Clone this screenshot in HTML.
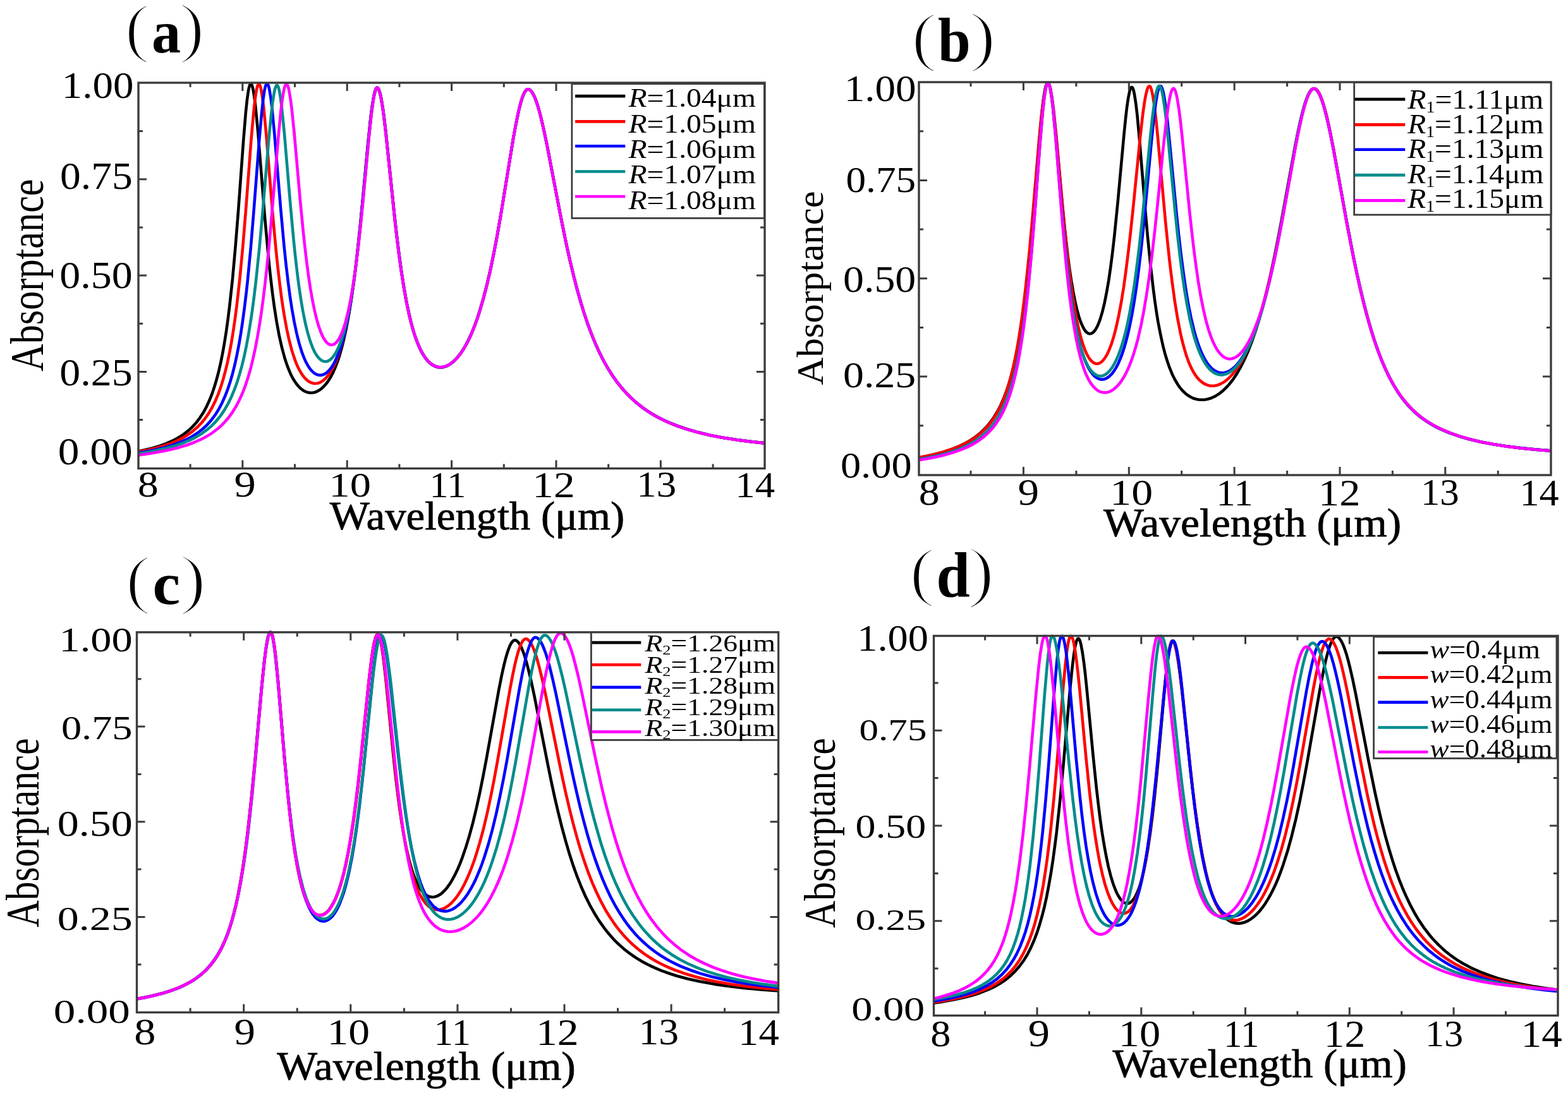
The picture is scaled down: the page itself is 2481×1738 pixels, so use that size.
<!DOCTYPE html>
<html><head><meta charset="utf-8"><title>Absorptance spectra</title><style>html,body{margin:0;padding:0;background:#fff}svg{display:block}</style></head><body>
<svg xmlns="http://www.w3.org/2000/svg" width="2481" height="1738" viewBox="0 0 2481 1738">
<rect width="2481" height="1738" fill="#fff"/>
<defs>
<clipPath id="clipa"><rect x="219.0" y="128.0" width="991.0" height="613.5"/></clipPath>
<clipPath id="clipb"><rect x="1454.0" y="127.0" width="1000.0" height="625.0"/></clipPath>
<clipPath id="clipc"><rect x="216.5" y="997.8" width="1015.0999999999999" height="604.7"/></clipPath>
<clipPath id="clipd"><rect x="1477.5" y="1003.5" width="987.5" height="604.0"/></clipPath>
</defs>
<g clip-path="url(#clipa)" fill="none" stroke-width="4.6" stroke-linejoin="round">
<polyline stroke="#000000" points="215.1,715.1 228.9,712.3 241.6,709.2 253.1,705.7 263.6,701.9 273.0,697.7 281.9,693.0 289.9,687.9 297.4,682.2 304.2,675.9 310.5,669.0 316.3,661.3 321.7,653.1 326.7,643.9 331.3,633.8 335.7,622.9 339.8,610.5 343.3,598.5 346.5,586.1 349.5,572.8 352.5,557.8 355.3,541.7 358.0,524.7 360.6,505.7 363.1,485.8 368.0,441.1 372.6,389.5 377.0,334.5 385.3,220.9 388.9,177.4 390.9,158.5 392.9,144.2 393.9,139.1 394.9,135.5 395.9,133.3 396.8,132.7 397.6,133.0 398.6,134.8 399.4,137.2 400.4,141.4 402.4,153.4 404.4,169.7 408.3,210.2 418.6,339.1 424.3,402.2 427.4,432.7 430.7,461.1 434.2,487.1 437.7,509.4 441.7,531.0 446.1,550.5 450.7,567.5 453.1,574.8 455.6,581.7 458.1,587.9 460.7,593.7 463.6,599.2 466.4,603.8 469.4,608.1 472.4,611.6 475.5,614.7 478.7,617.2 480.9,618.6 483.2,619.8 485.4,620.6 487.7,621.3 490.0,621.6 492.4,621.7 494.7,621.6 497.0,621.2 499.4,620.5 501.7,619.6 506.2,617.0 510.7,613.4 515.0,608.8 519.0,603.5 523.0,597.2 526.7,590.2 530.3,582.0 533.8,572.9 537.2,562.9 540.3,552.1 543.3,540.5 547.8,520.4 552.1,497.4 556.3,471.5 560.5,441.6 564.8,405.8 569.1,365.3 573.3,322.6 582.0,229.2 586.3,187.5 588.6,169.0 591.0,154.3 593.1,144.8 594.3,141.4 595.3,139.6 595.9,139.0 596.4,138.8 597.1,138.9 597.8,139.3 598.9,141.1 600.3,144.5 601.6,149.3 602.9,155.4 605.6,171.4 607.9,188.7 610.6,211.4 623.8,337.5 627.4,370.0 630.9,398.5 634.9,427.8 639.1,454.6 643.4,478.6 647.7,499.1 650.2,509.5 652.7,518.8 655.2,527.3 657.9,535.4 660.6,542.6 663.4,549.4 666.2,555.3 669.2,560.8 672.4,565.7 675.5,569.8 678.9,573.4 682.2,576.3 685.7,578.5 689.4,580.2 693.0,581.2 696.7,581.5 700.7,581.2 704.9,580.1 708.9,578.3 713.0,575.8 717.2,572.5 721.3,568.5 725.3,563.9 729.3,558.6 733.2,552.8 737.0,546.3 740.8,539.0 744.5,531.3 748.2,522.7 751.7,513.8 755.2,504.0 758.6,493.4 764.6,473.1 770.6,449.9 776.5,424.4 782.3,396.0 787.3,369.3 792.6,338.8 811.9,220.7 816.1,197.7 819.8,179.8 821.9,170.4 824.1,162.2 826.1,155.7 828.1,150.3 830.1,146.1 832.1,143.2 833.1,142.2 834.1,141.6 834.9,141.3 835.9,141.2 837.1,141.5 838.2,142.2 839.4,143.1 840.7,144.5 843.1,147.9 845.6,152.9 848.1,159.1 850.7,167.0 853.4,176.2 856.2,187.1 860.7,206.6 865.7,230.6 886.4,338.6 891.7,365.3 896.7,389.2 902.2,413.9 907.7,436.8 913.2,458.1 918.8,478.2 924.5,496.6 930.3,513.8 936.3,529.9 942.5,544.9 948.8,558.7 955.5,571.8 962.5,584.1 969.6,595.4 974.0,601.6 978.5,607.6 983.1,613.4 987.8,618.8 992.8,624.1 997.8,629.1 1002.9,633.9 1008.3,638.5 1013.8,642.9 1019.4,647.1 1025.3,651.1 1031.4,655.0 1037.8,658.7 1044.2,662.2 1050.9,665.5 1057.9,668.6 1072.6,674.5 1088.4,679.8 1105.4,684.6 1123.7,688.9 1143.5,692.7 1165.1,696.1 1188.6,699.1 1214.1,701.8"/>
<polyline stroke="#ff0000" points="215.1,715.9 230.1,713.1 243.7,710.0 256.2,706.5 267.5,702.8 277.9,698.6 287.4,694.0 296.0,688.9 304.0,683.3 311.3,677.1 318.2,670.1 324.3,662.7 330.2,654.3 335.5,645.2 340.5,635.1 345.2,624.1 349.5,612.1 353.1,600.3 356.6,587.4 359.8,574.2 363.0,559.1 366.0,543.0 368.8,525.9 371.6,506.7 374.3,486.5 379.3,442.3 384.3,389.4 388.8,334.7 397.4,221.3 401.3,177.7 403.4,158.1 405.4,144.6 406.4,139.7 407.4,136.1 408.4,133.9 408.9,133.3 409.4,133.1 410.3,133.5 411.3,135.2 412.3,138.3 413.3,142.6 415.3,154.7 417.3,171.0 421.1,211.1 431.2,335.6 436.7,396.0 439.9,426.2 443.1,453.1 446.2,476.7 449.6,498.3 453.4,519.5 457.6,538.7 461.9,555.1 466.4,568.9 468.7,575.0 471.2,580.7 473.7,585.7 476.4,590.4 479.0,594.3 481.9,597.9 484.7,600.8 487.7,603.2 491.7,605.5 495.7,606.7 497.7,607.0 499.7,607.0 501.7,606.8 503.9,606.3 507.9,604.6 511.8,601.9 515.8,598.2 519.7,593.6 523.3,588.2 526.8,582.0 530.2,575.1 533.5,567.0 536.7,558.2 539.8,548.1 542.8,537.3 545.7,525.8 549.8,506.4 553.8,484.6 557.6,460.5 561.5,432.9 565.6,398.7 569.8,360.2 573.8,319.8 582.5,227.8 586.8,186.8 589.1,168.6 591.5,154.2 593.6,144.9 594.8,141.6 595.8,139.9 596.4,139.2 596.9,139.1 597.4,139.1 598.1,139.5 599.3,141.2 600.6,144.6 601.9,149.5 603.3,155.8 605.9,172.1 608.3,189.9 610.8,211.6 623.6,336.6 627.1,368.1 630.6,397.1 634.6,426.7 638.7,453.7 642.9,477.0 647.2,497.6 649.7,508.0 652.2,517.5 654.9,526.5 657.6,534.6 660.2,541.8 663.1,548.6 666.1,554.9 669.1,560.3 672.2,565.2 675.4,569.4 678.7,573.0 682.2,576.0 685.7,578.3 689.4,580.0 693.0,581.0 696.9,581.3 700.9,581.0 705.0,579.9 709.2,578.1 713.4,575.5 717.5,572.2 721.5,568.3 725.5,563.8 729.5,558.5 733.3,552.7 737.2,546.1 741.0,538.8 744.7,531.1 748.3,522.5 751.8,513.5 755.3,503.8 758.8,493.1 764.8,472.7 770.8,449.5 776.6,423.9 782.3,396.2 787.3,369.5 792.6,338.9 811.9,220.7 816.1,197.7 819.8,179.7 821.9,170.3 824.1,162.1 826.1,155.6 828.1,150.2 830.1,146.0 832.1,143.1 833.1,142.2 834.1,141.5 834.9,141.3 835.9,141.2 837.1,141.5 838.2,142.2 839.4,143.1 840.7,144.5 843.1,148.0 845.6,152.9 848.1,159.2 850.7,167.1 853.4,176.3 856.2,187.2 860.7,206.7 865.7,230.7 886.4,338.7 896.5,388.5 902.2,413.9 907.7,436.9 913.2,458.1 918.8,478.2 924.5,496.6 930.3,513.8 936.3,529.9 942.5,544.9 948.8,558.7 955.5,571.8 962.5,584.1 969.6,595.3 974.0,601.5 978.5,607.5 983.1,613.3 987.8,618.7 992.8,624.1 997.8,629.1 1002.9,633.9 1008.3,638.5 1013.8,642.9 1019.4,647.1 1025.3,651.1 1031.4,655.0 1037.8,658.7 1044.2,662.2 1050.9,665.5 1057.9,668.6 1072.6,674.5 1088.4,679.8 1105.4,684.6 1123.7,688.9 1143.5,692.7 1165.1,696.1 1188.6,699.1 1214.1,701.8"/>
<polyline stroke="#0000ff" points="215.1,717.4 231.6,714.7 246.6,711.7 260.2,708.4 272.5,704.7 283.7,700.7 294.0,696.2 303.4,691.3 312.0,685.8 319.8,679.8 327.2,673.0 333.8,665.6 340.0,657.4 345.7,648.5 351.0,638.5 355.8,627.8 360.5,615.7 364.3,604.1 368.0,591.3 371.5,577.4 374.8,562.2 378.0,545.8 381.0,528.2 383.8,509.5 386.6,488.6 389.3,466.6 391.8,443.9 396.8,391.9 401.4,335.9 410.4,219.3 414.3,176.3 416.4,157.0 418.4,143.7 419.4,138.9 420.4,135.4 421.4,133.3 421.9,132.7 422.4,132.5 423.3,132.9 424.3,134.6 425.3,137.6 426.3,141.8 428.3,153.8 430.4,171.3 434.2,211.1 444.1,330.0 449.4,388.4 452.4,417.2 455.6,444.3 458.7,468.1 461.9,488.9 465.6,509.6 469.4,527.8 473.4,543.6 477.7,557.5 479.9,563.4 482.2,569.0 484.5,573.9 487.0,578.4 489.5,582.3 492.0,585.6 494.7,588.5 497.4,590.7 500.9,592.7 504.4,593.8 507.9,593.9 511.3,593.1 514.8,591.4 518.3,588.7 521.7,585.2 525.0,580.8 528.2,575.6 531.3,569.4 534.3,562.5 537.2,555.0 540.0,546.4 542.7,537.2 545.3,526.8 548.0,515.3 551.6,497.1 555.3,476.1 558.8,453.1 562.3,427.0 566.1,394.8 570.1,357.2 582.5,226.5 586.6,186.5 589.1,166.9 591.3,153.6 592.4,148.0 593.4,144.3 594.4,141.5 595.4,139.7 596.1,139.0 596.6,138.8 597.3,139.0 597.9,139.5 599.1,141.3 600.4,144.8 601.8,149.7 603.1,156.0 605.8,172.2 608.1,189.8 610.6,211.2 623.6,336.6 627.3,369.3 630.8,397.9 634.7,427.3 638.9,454.2 643.2,478.3 647.6,498.7 650.1,509.1 652.6,518.5 655.1,526.9 657.7,535.0 660.4,542.2 663.2,549.0 666.2,555.3 669.2,560.7 672.4,565.6 675.5,569.7 678.9,573.3 682.2,576.1 685.7,578.4 689.4,580.1 693.0,581.0 696.7,581.4 700.7,581.1 704.9,580.0 709.0,578.2 713.2,575.6 717.3,572.3 721.3,568.5 725.3,563.9 729.3,558.7 733.2,552.9 737.0,546.4 740.8,539.1 744.5,531.4 748.2,522.9 751.7,513.9 755.2,504.2 758.6,493.6 764.6,473.3 770.6,450.1 776.5,424.7 782.3,396.2 787.3,369.5 792.6,338.9 811.9,220.7 816.1,197.7 819.8,179.7 821.9,170.3 824.1,162.1 826.3,155.1 828.3,149.8 830.3,145.7 832.3,142.9 834.1,141.5 835.1,141.2 836.1,141.3 837.2,141.6 838.4,142.3 839.6,143.3 840.9,144.7 843.2,148.3 845.7,153.3 848.2,159.6 850.7,167.1 853.4,176.3 856.2,187.2 860.7,206.7 865.7,230.7 886.4,338.7 896.5,388.5 902.0,413.2 907.5,436.2 913.0,457.5 918.7,477.6 924.3,496.1 930.2,513.4 936.2,529.5 942.3,544.5 948.7,558.4 955.3,571.5 962.3,583.8 969.5,595.1 973.8,601.3 978.3,607.3 983.0,613.1 987.6,618.5 992.6,623.9 997.6,629.0 1002.8,633.8 1008.1,638.4 1013.6,642.8 1019.3,647.0 1025.1,651.0 1031.3,654.9 1037.6,658.6 1044.1,662.1 1050.9,665.4 1057.9,668.6 1072.6,674.5 1088.4,679.8 1105.4,684.6 1123.7,688.9 1143.5,692.7 1165.1,696.1 1188.6,699.2 1214.1,701.8"/>
<polyline stroke="#008b8b" points="215.1,718.7 232.7,715.9 248.7,712.8 263.2,709.5 276.5,705.7 288.5,701.6 299.5,697.1 309.7,692.1 318.8,686.6 327.3,680.4 335.2,673.7 342.3,666.3 349.0,658.1 355.1,649.0 360.8,639.2 366.1,628.2 371.1,616.2 375.3,604.5 379.1,592.2 383.0,578.1 386.5,563.5 389.8,547.7 393.1,529.8 396.3,510.6 399.3,490.3 402.1,468.9 404.9,445.3 410.4,392.7 415.4,337.6 425.1,222.5 429.3,179.3 431.6,160.1 433.9,145.8 435.1,140.8 436.1,137.7 437.2,135.5 437.7,135.0 438.2,134.9 439.1,135.4 440.1,137.1 441.1,140.1 442.1,144.4 444.1,156.3 446.2,173.8 450.1,213.1 459.6,325.9 464.6,380.0 467.4,407.1 470.4,432.9 473.2,454.5 476.2,474.6 479.5,493.9 483.0,511.1 486.7,526.2 490.5,539.1 494.5,549.9 496.5,554.4 498.7,558.6 500.9,562.2 503.2,565.4 505.4,567.8 507.7,569.8 510.5,571.4 513.5,572.3 516.5,572.2 519.5,571.2 522.5,569.3 525.3,566.7 528.2,563.3 531.0,558.9 533.8,553.6 536.5,547.7 539.2,540.8 541.7,533.4 544.2,525.0 546.5,516.2 551.2,495.7 555.0,475.4 558.8,451.6 562.5,425.5 566.1,395.7 569.3,367.1 572.5,336.1 584.0,214.6 588.1,176.9 590.1,162.4 592.1,151.1 593.9,143.8 594.9,141.2 595.8,139.8 596.4,139.2 596.9,139.0 597.4,139.1 598.1,139.6 599.3,141.3 600.6,144.8 601.8,149.0 603.1,155.2 605.8,171.4 608.1,189.0 610.6,210.7 623.4,335.9 626.9,367.5 630.4,396.5 634.4,426.1 638.6,453.1 642.7,476.4 647.2,497.8 649.7,508.2 652.2,517.5 654.9,526.5 657.6,534.6 660.2,541.7 663.1,548.5 666.1,554.7 669.1,560.2 672.2,565.1 675.5,569.4 678.9,573.0 682.4,576.0 685.9,578.2 689.5,579.9 693.2,580.9 697.0,581.3 701.0,580.9 705.2,579.8 709.4,578.0 713.5,575.4 717.7,572.1 721.7,568.2 725.7,563.6 729.7,558.3 733.5,552.5 737.3,545.9 741.2,538.6 744.8,530.8 748.5,522.2 752.0,513.2 755.5,503.4 758.8,493.2 764.8,472.9 770.8,449.6 776.6,424.0 782.3,396.3 787.3,369.5 792.6,338.9 811.9,220.5 816.1,197.5 819.8,179.5 821.9,170.1 824.1,161.9 826.3,154.9 828.3,149.7 830.3,145.6 832.3,142.9 834.1,141.5 835.1,141.2 836.1,141.3 837.2,141.6 838.4,142.3 839.6,143.3 840.9,144.8 843.2,148.3 845.7,153.4 848.2,159.7 850.7,167.2 853.4,176.4 856.2,187.3 860.7,206.8 865.7,230.8 886.4,338.7 896.5,388.4 902.2,413.8 907.7,436.8 913.2,458.0 918.8,478.1 924.5,496.5 930.3,513.8 936.3,529.9 942.5,544.8 948.8,558.7 955.5,571.8 962.5,584.1 969.6,595.3 974.0,601.5 978.5,607.5 983.1,613.3 987.8,618.7 992.8,624.1 997.8,629.1 1002.9,633.9 1008.3,638.5 1013.8,642.9 1019.4,647.1 1025.3,651.1 1031.4,655.0 1037.8,658.7 1044.2,662.2 1051.1,665.6 1058.1,668.7 1072.7,674.6 1088.5,679.9 1105.5,684.7 1123.8,688.9 1143.7,692.7 1165.3,696.1 1188.6,699.1 1214.1,701.8"/>
<polyline stroke="#ff00ff" points="215.1,721.0 234.6,718.3 252.2,715.3 268.2,712.0 282.7,708.4 295.9,704.5 307.8,700.0 318.7,695.2 328.7,689.8 337.8,683.8 346.2,677.3 350.0,673.8 353.8,670.0 360.8,662.1 367.3,653.3 373.5,643.3 379.1,632.4 384.3,620.7 388.6,609.2 392.8,596.4 396.8,582.3 400.4,567.5 403.9,551.4 407.4,533.1 410.6,514.3 413.8,493.2 416.8,470.8 419.6,447.3 422.4,421.5 425.3,393.3 430.2,338.0 440.1,220.3 444.2,177.1 446.6,157.9 448.9,143.7 450.1,138.7 451.1,135.7 452.1,133.8 452.6,133.3 453.1,133.1 453.6,133.2 454.1,133.6 455.1,135.2 456.1,138.1 457.1,142.0 459.2,154.1 461.6,171.9 465.6,210.8 475.0,317.5 480.0,369.0 482.9,395.0 485.5,417.1 488.2,437.1 491.0,455.9 494.2,474.3 497.4,490.0 500.7,504.0 504.0,515.6 507.7,526.0 511.3,534.0 513.2,537.2 515.2,540.0 517.0,542.2 519.0,543.9 521.3,545.3 523.8,546.0 526.3,545.7 528.7,544.8 531.0,543.1 533.3,540.6 535.7,537.3 538.0,533.2 540.2,528.6 542.3,523.2 544.5,517.0 546.7,509.9 550.8,493.6 554.8,474.4 558.1,455.3 561.5,433.2 564.6,409.3 567.8,382.4 573.5,327.5 584.0,214.5 588.0,177.3 590.0,162.4 591.8,151.5 593.6,143.8 594.6,141.1 595.4,139.6 596.1,138.9 596.6,138.8 597.1,138.9 597.8,139.3 598.9,141.1 600.3,144.4 601.6,149.3 602.9,155.5 605.6,171.7 607.9,189.2 610.6,212.2 623.4,336.3 626.9,367.7 630.4,396.5 634.4,426.0 638.6,452.9 642.9,477.1 647.2,497.7 649.7,508.0 652.2,517.4 654.9,526.5 657.6,534.5 660.2,541.7 663.1,548.5 666.1,554.8 669.1,560.2 672.2,565.1 675.4,569.3 678.7,572.9 682.2,575.9 685.7,578.2 689.4,579.9 693.0,580.9 696.9,581.2 700.9,580.9 705.0,579.8 709.2,578.0 713.4,575.5 717.5,572.2 721.5,568.4 725.5,563.8 729.5,558.5 733.3,552.8 737.2,546.3 741.0,539.0 744.7,531.2 748.3,522.7 751.8,513.7 755.3,504.0 758.6,493.9 764.6,473.6 770.6,450.4 776.5,424.9 782.3,396.4 787.3,369.6 792.6,339.0 811.9,220.4 816.1,197.4 819.8,179.4 821.9,170.0 824.1,161.8 826.3,154.8 828.3,149.6 830.3,145.5 832.3,142.8 833.3,141.9 834.3,141.4 835.3,141.2 836.3,141.3 837.4,141.7 838.6,142.4 841.1,145.0 843.4,148.7 845.9,153.9 848.4,160.3 850.9,167.9 853.6,177.1 856.4,188.1 860.7,206.9 865.7,230.9 886.4,338.7 896.5,388.4 902.0,413.1 907.5,436.1 913.0,457.4 918.7,477.6 924.3,496.0 930.2,513.3 936.2,529.4 942.3,544.4 948.8,558.6 955.5,571.7 962.5,584.0 969.6,595.3 974.0,601.5 978.5,607.5 983.1,613.3 987.8,618.7 992.8,624.1 997.8,629.1 1002.9,633.9 1008.3,638.5 1013.8,642.9 1019.4,647.1 1025.3,651.1 1031.4,655.0 1037.8,658.7 1044.2,662.2 1051.1,665.6 1058.1,668.8 1072.7,674.6 1088.5,679.9 1105.5,684.7 1123.8,689.0 1143.7,692.8 1165.3,696.2 1188.6,699.2 1214.1,701.8"/>
</g>
<path d="M301.1,741.5v-7M301.1,131.0v7M383.8,741.5v-13M383.8,131.0v13M466.5,741.5v-7M466.5,131.0v7M549.2,741.5v-13M549.2,131.0v13M631.9,741.5v-7M631.9,131.0v7M714.6,741.5v-13M714.6,131.0v13M797.3,741.5v-7M797.3,131.0v7M880.0,741.5v-13M880.0,131.0v13M962.7,741.5v-7M962.7,131.0v7M1045.4,741.5v-13M1045.4,131.0v13M1128.1,741.5v-7M1128.1,131.0v7M219.0,664.6h7M1210.0,664.6h-7M219.0,588.4h13M1210.0,588.4h-13M219.0,512.2h7M1210.0,512.2h-7M219.0,436.0h13M1210.0,436.0h-13M219.0,359.9h7M1210.0,359.9h-7M219.0,283.7h13M1210.0,283.7h-13M219.0,207.5h7M1210.0,207.5h-7" stroke="#3c3c3c" stroke-width="3" fill="none"/>
<rect x="219.0" y="131.0" width="991.0" height="610.5" fill="none" stroke="#3c3c3c" stroke-width="3.4"/>
<g clip-path="url(#clipb)" fill="none" stroke-width="4.6" stroke-linejoin="round">
<polyline stroke="#000000" points="1449.3,725.3 1465.2,722.3 1479.7,719.0 1492.9,715.4 1505.0,711.4 1516.1,707.0 1526.2,702.2 1535.4,697.0 1544.0,691.1 1551.9,684.7 1559.1,677.7 1565.8,669.9 1572.1,661.3 1577.8,652.0 1583.2,641.7 1588.0,630.8 1592.7,618.4 1596.6,606.6 1600.3,593.8 1603.8,579.8 1607.2,564.7 1610.4,548.5 1613.4,531.3 1616.4,512.0 1619.3,491.6 1622.0,470.5 1624.6,447.2 1630.0,394.1 1634.9,338.8 1644.5,221.7 1648.7,177.0 1651.0,157.1 1653.4,142.3 1654.5,137.2 1655.6,134.0 1656.6,132.0 1657.1,131.5 1657.7,131.2 1658.2,131.4 1658.7,131.8 1659.8,133.6 1660.8,136.5 1661.8,140.5 1664.0,152.5 1666.3,170.1 1670.3,208.4 1679.9,313.6 1684.6,361.3 1689.8,406.8 1692.5,427.0 1695.2,445.0 1698.1,461.9 1701.1,477.2 1704.1,490.3 1707.1,501.2 1710.3,510.5 1713.7,518.0 1715.4,521.0 1717.0,523.5 1718.7,525.4 1720.4,526.8 1722.4,527.9 1724.4,528.3 1726.4,528.0 1728.5,527.0 1730.5,525.4 1732.5,523.0 1734.5,519.8 1736.5,516.0 1738.5,511.3 1740.4,506.3 1744.1,494.2 1747.6,479.7 1751.1,462.0 1754.2,444.2 1757.2,423.6 1760.2,400.2 1763.2,373.9 1768.6,320.5 1778.7,210.1 1780.9,188.7 1782.7,172.6 1784.9,156.9 1787.1,145.6 1788.1,142.0 1789.1,139.5 1790.1,138.2 1790.6,138.0 1791.1,138.1 1792.0,138.9 1793.0,141.2 1794.0,144.7 1795.0,149.4 1797.2,163.6 1799.4,182.3 1803.2,223.7 1811.6,326.1 1815.8,373.9 1820.4,419.6 1825.1,459.8 1827.4,477.3 1829.9,494.3 1832.4,509.6 1835.0,523.3 1837.7,536.4 1840.5,548.8 1843.5,560.3 1846.6,570.5 1850.6,582.2 1854.8,592.4 1859.3,601.5 1864.2,609.6 1866.7,613.1 1869.4,616.4 1872.1,619.4 1874.8,622.0 1877.6,624.3 1880.7,626.5 1883.7,628.3 1886.7,629.8 1889.9,631.0 1893.3,631.9 1896.6,632.5 1900.1,632.8 1903.7,632.8 1907.2,632.5 1910.7,631.8 1914.3,630.8 1917.8,629.5 1921.3,627.9 1924.8,625.9 1928.2,623.8 1931.7,621.2 1935.1,618.4 1941.6,612.0 1945.2,608.0 1948.7,603.6 1952.2,598.8 1955.6,593.8 1962.3,582.4 1968.7,569.8 1974.9,555.7 1981.1,539.8 1987.0,522.7 1992.9,503.7 1998.8,482.7 2004.5,460.2 2010.4,434.9 2016.2,407.6 2021.4,381.8 2027.1,351.9 2048.8,233.4 2054.0,207.3 2058.7,186.2 2061.6,174.9 2064.4,164.9 2067.1,156.9 2069.8,150.4 2072.5,145.4 2075.0,142.2 2076.4,141.1 2077.5,140.5 2078.7,140.3 2080.1,140.4 2081.2,140.8 2082.4,141.6 2083.6,142.7 2084.9,144.4 2087.5,148.5 2090.0,154.1 2092.5,161.0 2095.2,169.7 2097.9,179.6 2100.7,191.4 2105.3,212.3 2110.5,238.7 2131.5,354.3 2141.7,407.4 2147.3,433.9 2152.8,458.6 2158.4,481.5 2163.9,502.6 2169.4,521.9 2175.0,539.5 2180.7,556.0 2186.4,570.8 2192.5,584.9 2198.7,597.8 2205.1,609.6 2211.8,620.5 2215.8,626.4 2219.8,631.9 2224.0,637.1 2228.2,642.0 2232.8,646.8 2237.3,651.2 2242.0,655.5 2247.0,659.6 2252.1,663.4 2257.5,667.1 2263.0,670.6 2268.7,673.9 2274.8,677.1 2281.0,680.0 2287.5,682.9 2294.4,685.6 2309.2,690.7 2325.3,695.3 2342.8,699.4 2362.0,703.1 2382.6,706.2 2405.3,709.1 2430.0,711.5 2457.0,713.6"/>
<polyline stroke="#ff0000" points="1449.3,724.9 1465.2,721.9 1479.7,718.7 1492.9,715.2 1505.0,711.3 1516.1,707.1 1526.2,702.4 1535.4,697.3 1544.0,691.7 1551.9,685.4 1559.1,678.6 1565.7,671.2 1571.7,663.1 1577.3,654.3 1582.5,644.4 1587.2,633.9 1591.7,622.0 1595.4,610.7 1598.9,598.3 1602.3,585.0 1605.7,569.8 1608.9,553.5 1611.9,536.2 1614.7,518.0 1617.6,497.8 1620.4,475.5 1623.1,452.6 1628.7,399.1 1633.7,343.7 1643.8,224.9 1646.1,199.5 1648.3,178.3 1650.9,157.8 1653.4,142.6 1654.5,137.6 1655.7,134.0 1656.9,131.9 1657.9,131.2 1658.4,131.3 1658.9,131.7 1660.1,133.7 1661.1,136.7 1662.3,141.4 1664.6,154.8 1667.0,172.9 1671.2,213.5 1681.6,330.0 1687.0,385.2 1690.0,412.9 1693.0,438.0 1696.0,460.5 1699.1,480.4 1702.4,499.7 1706.0,517.0 1709.5,531.6 1713.2,544.2 1717.0,554.8 1718.9,559.0 1720.9,562.9 1722.9,566.3 1725.1,569.4 1727.1,571.6 1729.3,573.5 1732.0,575.0 1734.7,575.7 1737.4,575.6 1740.2,574.6 1742.9,572.8 1745.6,570.1 1748.3,566.6 1751.0,562.2 1753.5,557.2 1756.0,551.3 1758.5,544.6 1760.9,537.3 1763.2,529.2 1765.6,520.1 1770.1,499.7 1774.0,479.0 1777.9,455.0 1781.5,428.9 1785.2,399.5 1788.4,371.7 1791.8,340.2 1804.1,217.1 1808.4,179.1 1810.8,162.4 1813.0,150.2 1815.1,141.6 1816.2,139.0 1817.2,137.2 1818.3,136.3 1819.0,136.3 1819.5,136.6 1820.7,138.5 1821.9,141.7 1823.0,146.4 1824.4,153.3 1826.9,170.4 1829.1,188.9 1831.4,211.7 1844.0,349.6 1847.6,385.2 1850.9,416.2 1855.0,449.3 1859.0,478.1 1863.2,503.8 1867.4,525.4 1869.7,535.9 1872.3,546.1 1874.8,555.1 1877.3,563.2 1880.0,570.8 1882.8,577.8 1885.7,583.9 1888.7,589.5 1891.9,594.5 1895.1,598.6 1898.6,602.3 1902.2,605.3 1906.0,607.7 1909.9,609.4 1913.9,610.5 1918.0,610.8 1922.5,610.5 1927.0,609.4 1931.6,607.5 1936.3,604.9 1940.8,601.6 1945.3,597.5 1949.9,592.7 1954.2,587.3 1958.6,581.2 1962.8,574.5 1967.0,567.1 1971.2,558.8 1975.2,550.1 1979.3,540.6 1983.1,530.6 1987.0,519.8 1994.1,497.9 2000.9,473.5 2007.8,446.2 2014.7,415.9 2020.8,387.0 2027.0,355.2 2045.3,255.1 2050.5,227.5 2055.5,202.7 2060.1,182.9 2062.8,172.5 2065.5,163.3 2068.0,155.9 2070.5,149.9 2073.0,145.2 2075.4,142.2 2076.7,141.1 2077.9,140.4 2079.1,140.1 2080.2,140.2 2081.4,140.5 2082.6,141.3 2083.8,142.3 2085.1,143.9 2087.5,147.7 2090.0,153.2 2092.5,160.0 2095.0,168.2 2097.7,178.1 2100.6,189.9 2105.1,211.0 2110.1,236.8 2130.8,352.0 2141.0,405.6 2146.6,432.3 2152.1,457.2 2157.5,479.5 2163.1,500.7 2168.6,520.1 2174.1,537.7 2179.9,554.2 2185.7,569.5 2191.8,583.6 2198.0,596.5 2204.4,608.2 2211.1,619.1 2215.1,625.0 2219.2,630.5 2223.4,635.8 2227.7,640.8 2232.3,645.7 2237.0,650.3 2241.7,654.5 2246.7,658.7 2251.9,662.7 2257.3,666.4 2262.8,669.9 2268.7,673.3 2274.8,676.6 2281.2,679.6 2287.7,682.5 2294.6,685.3 2309.4,690.5 2325.5,695.2 2343.0,699.4 2362.1,703.1 2382.8,706.4 2405.5,709.3 2430.2,711.8 2457.0,714.0"/>
<polyline stroke="#0000ff" points="1449.3,727.7 1466.1,724.8 1481.2,721.7 1495.0,718.3 1507.4,714.6 1518.6,710.5 1529.1,705.9 1538.5,700.9 1547.2,695.3 1555.1,689.1 1562.3,682.4 1569.0,674.9 1575.3,666.6 1581.0,657.5 1586.3,647.3 1591.2,636.4 1595.9,624.0 1599.8,612.1 1603.5,599.0 1607.0,584.7 1610.2,569.9 1613.4,553.1 1616.4,535.1 1619.3,515.9 1622.1,494.4 1624.8,471.8 1627.3,448.4 1632.4,394.9 1636.9,339.3 1645.8,221.4 1649.7,176.9 1651.9,156.9 1653.9,143.0 1654.9,138.0 1655.9,134.3 1656.9,132.1 1657.4,131.5 1657.9,131.2 1658.7,131.6 1659.8,133.2 1660.8,136.2 1661.8,140.4 1663.8,152.2 1666.0,169.7 1670.0,211.4 1680.1,333.3 1685.5,392.0 1688.5,421.0 1691.7,448.4 1694.9,472.4 1698.2,494.5 1701.9,515.3 1706.0,534.3 1710.0,550.1 1714.4,564.0 1716.5,569.9 1718.9,575.5 1721.2,580.4 1723.8,585.0 1726.3,588.9 1728.8,592.2 1731.5,595.1 1734.2,597.3 1737.7,599.4 1739.6,600.0 1741.4,600.5 1744.9,600.6 1746.8,600.3 1748.6,599.8 1752.3,597.9 1755.8,595.2 1759.4,591.6 1762.9,586.9 1766.3,581.4 1769.5,575.2 1772.6,567.8 1775.7,559.8 1778.7,550.6 1781.5,540.8 1784.2,530.4 1786.9,518.7 1790.8,499.6 1794.5,478.3 1798.2,453.9 1801.7,427.3 1805.6,394.4 1809.6,356.0 1821.7,226.2 1825.9,185.3 1828.4,165.1 1830.6,151.3 1831.8,145.6 1832.8,141.8 1833.8,138.9 1834.8,137.0 1835.5,136.3 1836.0,136.1 1836.5,136.2 1837.2,136.7 1838.3,138.6 1839.5,141.8 1840.7,146.3 1842.0,152.9 1844.5,169.2 1846.7,186.8 1849.2,210.0 1861.5,337.1 1865.0,370.8 1868.4,400.2 1872.3,430.4 1876.3,458.0 1880.3,481.8 1884.7,503.7 1889.6,524.0 1892.1,532.9 1894.8,541.5 1897.5,549.2 1900.3,556.3 1903.2,562.6 1906.2,568.4 1909.2,573.3 1912.4,577.8 1915.8,581.6 1919.1,584.7 1922.7,587.1 1926.2,588.9 1929.7,589.9 1933.4,590.3 1937.1,590.0 1941.0,589.0 1944.7,587.4 1948.5,585.0 1952.4,581.9 1956.1,578.3 1960.0,573.8 1963.6,568.8 1967.3,563.1 1970.9,557.0 1974.6,549.9 1978.1,542.4 1981.6,534.2 1985.0,525.7 1988.5,516.0 1991.9,506.0 1998.1,485.6 2004.3,462.7 2010.5,437.1 2016.9,408.1 2022.4,380.8 2028.3,350.1 2050.3,228.5 2055.4,203.2 2059.7,183.6 2062.4,173.0 2064.9,164.1 2067.5,156.5 2070.0,150.3 2072.5,145.5 2074.9,142.4 2076.0,141.3 2077.2,140.7 2078.4,140.3 2079.6,140.3 2080.7,140.7 2081.9,141.4 2083.1,142.3 2084.4,143.9 2087.0,147.9 2089.5,153.2 2092.0,159.9 2094.7,168.4 2097.5,178.8 2100.4,190.5 2104.9,211.3 2110.1,237.6 2131.3,354.1 2141.6,407.2 2147.1,433.6 2152.6,458.3 2158.2,481.2 2163.7,502.3 2169.3,521.6 2174.8,539.2 2180.5,555.6 2186.2,570.4 2192.3,584.5 2198.5,597.4 2204.9,609.2 2211.6,620.1 2215.6,626.0 2219.7,631.5 2223.9,636.7 2228.1,641.6 2232.6,646.4 2237.1,650.9 2241.8,655.1 2246.9,659.2 2251.9,663.1 2257.3,666.8 2262.8,670.3 2268.7,673.7 2274.8,676.9 2281.0,679.8 2287.5,682.7 2294.4,685.5 2309.2,690.6 2325.3,695.2 2342.8,699.4 2362.0,703.0 2382.6,706.3 2405.3,709.1 2430.0,711.6 2457.0,713.8"/>
<polyline stroke="#008b8b" points="1449.3,727.8 1465.9,725.0 1481.0,721.9 1494.8,718.4 1507.2,714.7 1518.5,710.6 1528.9,706.0 1538.3,700.9 1547.0,695.3 1554.9,689.2 1562.3,682.3 1569.0,674.8 1575.3,666.4 1581.0,657.3 1586.3,647.2 1591.2,636.3 1595.9,623.9 1599.8,612.1 1603.5,599.1 1607.0,584.8 1610.2,570.1 1613.4,553.4 1616.4,535.5 1619.3,516.4 1622.1,495.0 1624.8,472.6 1627.3,449.3 1632.4,395.9 1637.1,338.4 1646.0,220.5 1649.8,176.1 1652.0,156.2 1654.0,142.6 1655.1,137.6 1656.1,134.1 1657.1,131.9 1657.6,131.4 1658.1,131.2 1658.9,131.7 1659.9,133.5 1660.9,136.7 1661.9,141.2 1664.0,153.7 1666.0,170.3 1669.8,211.0 1679.6,330.7 1685.0,390.3 1688.0,419.7 1691.0,445.9 1694.0,469.1 1697.2,490.4 1700.7,510.8 1704.6,529.5 1708.6,545.6 1712.8,559.3 1715.0,565.3 1717.2,570.6 1719.6,575.7 1721.9,580.0 1724.3,583.8 1726.8,587.1 1729.3,589.9 1732.0,592.1 1735.4,594.1 1738.9,595.2 1740.6,595.3 1742.4,595.3 1745.9,594.4 1749.5,592.6 1753.0,589.8 1756.5,586.0 1759.9,581.4 1763.2,575.8 1766.4,569.4 1769.5,562.4 1772.5,554.4 1775.3,545.7 1778.2,536.0 1780.9,525.6 1783.6,514.2 1787.4,495.4 1791.1,474.7 1794.8,451.1 1798.3,425.6 1802.4,392.7 1806.4,356.1 1810.4,316.2 1819.2,225.6 1823.5,185.1 1826.1,165.8 1828.4,151.6 1829.6,146.0 1830.8,141.7 1831.9,138.5 1833.0,136.8 1833.6,136.2 1834.1,136.0 1834.6,136.0 1835.3,136.5 1836.5,138.4 1837.7,141.7 1838.8,146.2 1840.2,152.9 1842.7,169.4 1844.9,187.1 1847.2,208.9 1859.7,338.6 1863.2,372.5 1866.6,402.1 1870.4,432.4 1874.4,460.1 1878.5,484.0 1882.8,506.0 1887.7,526.3 1890.2,535.3 1892.9,543.9 1895.6,551.6 1898.5,558.8 1901.5,565.4 1904.5,571.2 1907.7,576.4 1910.9,580.8 1914.3,584.6 1917.6,587.7 1921.1,590.1 1924.8,591.9 1928.5,593.0 1932.2,593.4 1935.9,593.1 1939.8,592.1 1943.7,590.4 1947.5,588.0 1951.4,585.0 1955.2,581.2 1959.1,576.7 1962.8,571.8 1966.5,566.1 1970.2,559.7 1973.9,552.6 1977.4,545.2 1981.0,536.9 1984.5,528.0 1988.0,518.3 1991.4,508.3 1997.8,487.4 2004.0,464.3 2010.2,438.7 2016.6,409.6 2022.1,382.3 2028.0,351.5 2050.2,228.8 2055.2,203.4 2059.6,183.8 2062.3,173.1 2064.8,164.3 2067.3,156.6 2069.8,150.4 2072.3,145.6 2074.7,142.4 2075.9,141.4 2077.0,140.7 2078.2,140.4 2079.4,140.4 2080.6,140.7 2081.9,141.5 2083.1,142.5 2084.4,144.1 2087.0,148.1 2089.5,153.5 2092.0,160.2 2094.7,168.7 2097.5,179.1 2100.4,190.7 2104.9,211.5 2110.1,237.7 2131.5,354.8 2141.9,408.5 2147.4,434.8 2153.0,459.4 2158.5,482.2 2164.1,503.2 2169.6,522.4 2175.1,540.0 2180.9,556.4 2186.6,571.1 2192.6,585.2 2198.8,598.1 2205.2,609.8 2211.9,620.7 2216.0,626.6 2220.0,632.0 2224.2,637.2 2228.4,642.1 2232.9,646.9 2237.5,651.3 2242.2,655.5 2247.2,659.7 2252.3,663.4 2257.6,667.1 2263.2,670.6 2268.9,673.9 2274.9,677.1 2281.2,680.0 2287.7,682.9 2294.6,685.6 2309.4,690.7 2325.5,695.3 2343.0,699.4 2362.1,703.1 2382.8,706.3 2405.5,709.1 2430.2,711.6 2457.0,713.7"/>
<polyline stroke="#ff00ff" points="1449.3,728.9 1466.2,726.2 1481.5,723.2 1495.5,719.9 1508.1,716.3 1519.7,712.2 1530.1,707.9 1539.5,703.1 1548.2,697.7 1556.3,691.7 1563.5,685.2 1570.2,678.0 1576.3,670.1 1582.0,661.3 1587.2,651.6 1592.1,640.8 1596.4,629.3 1600.1,618.0 1603.6,605.5 1607.0,591.7 1610.2,576.8 1613.2,560.7 1616.2,542.5 1619.1,523.0 1621.8,502.5 1624.5,479.8 1627.0,456.2 1632.2,400.6 1636.9,342.7 1646.0,222.5 1649.8,178.0 1652.0,157.9 1654.2,142.9 1655.2,137.9 1656.2,134.3 1657.2,132.1 1657.7,131.5 1658.2,131.2 1659.1,131.6 1660.1,133.4 1661.1,136.6 1662.1,141.1 1664.1,153.9 1666.1,171.0 1670.0,213.0 1680.1,341.3 1685.6,404.8 1688.6,435.1 1691.8,463.5 1695.0,488.5 1698.4,511.4 1702.1,532.8 1706.1,552.3 1710.3,568.9 1714.7,582.8 1717.0,589.1 1719.4,594.6 1721.9,599.8 1724.4,604.2 1727.1,608.3 1729.8,611.7 1732.7,614.7 1735.5,617.1 1737.5,618.4 1739.7,619.6 1741.9,620.4 1744.1,621.0 1746.3,621.3 1748.6,621.4 1750.8,621.2 1753.2,620.7 1755.5,619.9 1757.7,619.0 1762.2,616.1 1766.6,612.4 1771.0,607.6 1775.2,601.8 1779.2,595.2 1783.1,587.7 1786.8,579.4 1790.3,570.3 1793.8,559.9 1797.2,548.7 1800.4,536.8 1805.1,516.5 1809.6,493.5 1814.0,467.7 1818.2,439.4 1822.7,404.4 1827.2,365.1 1831.6,323.6 1841.0,229.9 1845.6,189.6 1848.2,169.8 1850.6,156.1 1851.8,150.7 1852.9,146.3 1854.1,143.1 1855.3,141.0 1856.0,140.3 1856.6,139.9 1857.1,140.0 1857.8,140.4 1859.0,142.2 1860.2,145.3 1861.3,149.6 1862.7,156.0 1865.4,172.9 1867.6,190.1 1870.1,212.7 1882.0,332.8 1885.4,364.1 1888.6,391.6 1892.3,420.2 1895.9,445.4 1899.8,468.3 1903.7,488.0 1908.0,506.7 1910.4,515.4 1912.7,523.3 1915.1,530.3 1917.6,537.0 1920.1,542.8 1922.7,548.0 1925.3,552.7 1928.2,556.9 1931.1,560.4 1933.9,563.2 1936.8,565.3 1939.8,566.9 1942.8,567.9 1946.0,568.2 1949.2,567.8 1952.4,566.8 1955.6,565.2 1958.8,563.0 1962.1,560.0 1965.3,556.5 1968.5,552.4 1971.7,547.7 1974.9,542.3 1978.1,536.4 1981.3,529.8 1984.3,522.9 1990.5,506.9 1996.6,488.8 2002.3,469.3 2008.0,447.5 2013.7,423.4 2019.4,397.0 2024.6,371.1 2030.0,342.8 2050.8,227.5 2055.7,203.0 2060.1,183.3 2062.8,172.6 2065.3,163.7 2067.8,156.1 2070.2,150.2 2072.5,145.7 2074.9,142.5 2076.0,141.4 2077.2,140.7 2078.4,140.3 2079.6,140.3 2080.7,140.6 2081.9,141.3 2083.1,142.3 2084.4,143.8 2087.0,147.7 2089.5,153.1 2092.0,159.8 2094.7,168.3 2097.5,178.8 2100.4,190.5 2104.9,211.4 2110.1,237.8 2131.1,353.8 2141.4,406.9 2146.9,433.4 2152.5,458.1 2158.0,481.0 2163.6,502.0 2169.1,521.3 2174.6,538.8 2180.4,555.2 2186.1,570.0 2192.1,584.1 2198.3,597.0 2204.7,608.7 2211.4,619.6 2215.5,625.5 2219.5,631.0 2223.7,636.3 2228.1,641.3 2232.6,646.2 2237.1,650.6 2241.8,654.8 2246.9,659.0 2251.9,662.8 2257.3,666.6 2262.8,670.1 2268.7,673.5 2274.8,676.7 2281.2,679.8 2287.7,682.7 2294.6,685.4 2309.4,690.6 2325.5,695.3 2343.0,699.4 2362.1,703.1 2382.8,706.4 2405.5,709.3 2430.2,711.8 2457.0,713.9"/>
</g>
<path d="M1536.0,752.0v-7M1536.0,130.0v7M1619.4,752.0v-13M1619.4,130.0v13M1702.9,752.0v-7M1702.9,130.0v7M1786.3,752.0v-13M1786.3,130.0v13M1869.7,752.0v-7M1869.7,130.0v7M1953.1,752.0v-13M1953.1,130.0v13M2036.6,752.0v-7M2036.6,130.0v7M2120.0,752.0v-13M2120.0,130.0v13M2203.4,752.0v-7M2203.4,130.0v7M2286.8,752.0v-13M2286.8,130.0v13M2370.3,752.0v-7M2370.3,130.0v7M1454.0,673.8h7M2454.0,673.8h-7M1454.0,596.1h13M2454.0,596.1h-13M1454.0,518.4h7M2454.0,518.4h-7M1454.0,440.8h13M2454.0,440.8h-13M1454.0,363.1h7M2454.0,363.1h-7M1454.0,285.4h13M2454.0,285.4h-13M1454.0,207.7h7M2454.0,207.7h-7" stroke="#3c3c3c" stroke-width="3" fill="none"/>
<rect x="1454.0" y="130.0" width="1000.0" height="622.0" fill="none" stroke="#3c3c3c" stroke-width="3.4"/>
<g clip-path="url(#clipc)" fill="none" stroke-width="4.6" stroke-linejoin="round">
<polyline stroke="#000000" points="213.2,1581.6 229.6,1578.7 244.4,1575.4 258.0,1571.9 270.4,1568.0 281.8,1563.8 292.2,1559.1 301.8,1554.0 310.4,1548.5 318.4,1542.4 325.9,1535.7 332.7,1528.4 339.0,1520.3 344.8,1511.5 350.1,1502.0 355.0,1491.5 359.6,1480.0 363.6,1468.6 367.1,1456.8 370.5,1443.9 373.9,1429.5 377.2,1413.9 380.4,1396.5 383.5,1378.0 386.4,1358.7 389.3,1337.5 392.2,1314.2 397.8,1263.1 403.1,1208.5 413.6,1091.3 418.2,1046.9 420.8,1027.2 423.3,1012.4 424.5,1007.5 425.7,1003.8 426.9,1001.6 427.6,1000.9 428.1,1000.7 428.9,1001.1 430.0,1002.8 431.0,1005.8 432.0,1010.1 434.0,1022.2 436.3,1040.0 440.2,1080.3 450.0,1198.3 455.3,1255.7 458.2,1283.6 461.1,1308.7 464.0,1331.0 467.1,1351.9 470.5,1371.8 473.9,1388.7 477.5,1403.5 481.2,1416.1 485.1,1426.6 487.2,1431.1 489.4,1435.4 491.6,1438.9 493.8,1441.9 496.0,1444.3 498.4,1446.2 501.5,1448.0 504.7,1448.8 507.9,1448.8 511.3,1447.7 514.7,1445.7 518.0,1442.9 521.2,1439.2 524.4,1434.5 527.5,1429.2 530.6,1422.9 533.5,1416.0 536.4,1408.1 539.1,1399.7 541.8,1390.3 544.5,1379.7 547.1,1368.7 551.3,1347.9 555.6,1323.5 559.7,1296.4 563.8,1265.6 567.2,1237.1 570.8,1204.5 583.4,1080.9 587.8,1043.5 590.0,1028.5 592.0,1017.5 594.1,1009.6 595.1,1007.0 596.1,1005.2 597.3,1004.2 597.8,1004.2 598.5,1004.6 599.7,1006.4 600.9,1009.5 602.1,1014.0 603.3,1019.7 605.8,1035.8 608.0,1053.3 610.4,1074.7 622.0,1191.7 625.2,1222.1 628.3,1248.6 631.9,1276.5 635.5,1301.1 639.2,1323.4 642.9,1342.6 647.2,1360.9 651.6,1376.5 653.8,1383.1 656.2,1389.5 658.6,1395.0 661.2,1400.3 663.7,1404.8 666.4,1408.8 669.2,1412.1 671.9,1414.8 674.8,1417.0 677.7,1418.6 680.7,1419.6 683.8,1420.0 687.0,1419.8 690.4,1418.9 693.8,1417.3 697.3,1415.2 700.7,1412.4 704.1,1408.9 707.5,1404.9 710.9,1400.2 714.3,1394.9 717.5,1389.2 720.9,1382.6 724.2,1375.7 727.4,1368.1 730.6,1359.9 736.9,1341.8 742.5,1323.3 748.2,1302.5 753.8,1279.3 759.4,1253.7 764.3,1229.3 769.6,1201.5 789.2,1092.4 793.6,1070.0 797.7,1051.6 800.1,1042.2 802.5,1033.9 804.7,1027.3 806.9,1021.9 809.1,1017.8 811.2,1015.2 812.3,1014.1 813.4,1013.6 814.4,1013.4 815.4,1013.4 816.6,1013.8 817.8,1014.4 819.0,1015.4 820.3,1016.9 822.7,1020.4 825.3,1025.5 827.8,1031.8 830.4,1039.3 833.1,1048.5 835.8,1058.8 840.3,1077.5 845.4,1101.3 866.7,1209.7 872.1,1236.2 877.2,1259.9 883.2,1285.8 889.0,1309.1 894.8,1330.5 900.7,1350.7 906.8,1369.6 913.1,1387.2 919.6,1403.5 926.2,1418.5 933.2,1432.6 940.6,1445.7 948.2,1457.9 956.2,1469.2 961.0,1475.3 965.9,1481.1 971.0,1486.8 976.1,1492.0 981.4,1496.9 987.0,1501.9 992.8,1506.5 998.8,1510.9 1004.9,1515.1 1011.2,1519.1 1017.7,1522.9 1024.5,1526.5 1031.5,1529.9 1038.8,1533.2 1046.4,1536.3 1054.3,1539.2 1062.5,1542.0 1071.0,1544.7 1088.8,1549.5 1108.3,1553.8 1129.4,1557.6 1152.3,1561.0 1177.4,1563.9 1204.6,1566.4 1234.6,1568.6"/>
<polyline stroke="#ff0000" points="213.2,1581.6 229.6,1578.7 244.4,1575.5 257.8,1572.0 270.3,1568.1 281.7,1563.8 292.0,1559.2 301.6,1554.1 310.3,1548.5 318.3,1542.5 325.8,1535.7 332.6,1528.3 338.9,1520.2 344.7,1511.4 350.1,1501.6 355.0,1491.2 359.8,1479.3 363.7,1468.0 367.3,1456.2 370.9,1442.7 374.3,1428.3 377.5,1412.7 380.7,1395.3 383.8,1376.9 386.7,1357.6 389.6,1336.4 392.5,1313.0 398.1,1261.7 403.4,1206.8 413.6,1092.7 418.2,1047.6 420.9,1026.5 423.3,1012.6 424.5,1007.6 425.7,1003.9 426.9,1001.6 427.6,1000.9 428.1,1000.7 428.9,1001.1 430.0,1002.8 431.0,1005.9 432.0,1010.2 434.0,1022.4 436.3,1040.4 440.2,1080.9 449.9,1197.3 455.2,1254.9 458.0,1282.8 460.9,1307.9 463.8,1330.2 466.9,1351.0 470.3,1370.9 473.9,1388.5 477.5,1403.2 481.4,1416.3 485.3,1426.7 487.3,1431.2 489.5,1435.4 491.8,1438.9 494.0,1441.9 496.4,1444.4 498.7,1446.4 501.8,1448.1 505.0,1448.9 508.3,1448.8 511.5,1447.8 514.7,1445.9 518.0,1443.2 521.2,1439.5 524.4,1434.8 527.5,1429.4 530.4,1423.5 533.3,1416.6 536.2,1408.7 538.9,1400.3 541.6,1390.8 544.4,1380.3 546.9,1369.2 551.2,1348.3 555.4,1323.9 559.5,1296.8 563.6,1266.0 567.0,1237.6 570.6,1205.1 583.2,1082.1 585.6,1061.1 587.8,1043.6 590.0,1028.7 592.0,1017.8 594.1,1009.9 595.1,1007.3 596.1,1005.5 596.8,1004.8 597.5,1004.5 598.0,1004.5 598.7,1004.9 599.9,1006.7 601.1,1009.9 602.3,1014.3 603.6,1020.7 606.2,1036.7 608.4,1053.8 610.9,1076.5 623.2,1199.0 626.6,1230.5 630.0,1259.5 633.9,1289.4 637.8,1315.5 641.9,1339.0 646.0,1359.1 650.6,1378.0 653.0,1386.4 655.5,1394.5 658.1,1401.6 660.8,1408.4 663.5,1414.3 666.3,1419.5 669.2,1424.2 672.2,1428.4 675.3,1431.9 678.5,1434.8 681.8,1437.0 685.2,1438.7 688.6,1439.7 692.1,1440.1 696.1,1439.8 700.0,1438.8 703.9,1437.1 707.8,1434.8 711.9,1431.6 715.8,1427.8 719.7,1423.4 723.6,1418.3 727.6,1412.4 731.3,1406.1 735.1,1399.0 738.6,1391.6 742.2,1383.4 745.8,1374.5 749.2,1365.3 752.6,1355.3 758.7,1335.2 764.7,1313.1 770.6,1288.2 776.6,1260.5 781.7,1234.6 787.1,1205.0 807.1,1090.2 811.3,1068.0 815.2,1049.8 817.6,1040.1 819.8,1032.1 822.1,1025.3 824.3,1019.8 826.5,1015.5 828.5,1012.9 829.5,1012.0 830.6,1011.5 831.6,1011.2 832.6,1011.3 833.8,1011.6 835.0,1012.3 836.2,1013.2 837.5,1014.7 840.1,1018.4 842.7,1023.3 845.2,1029.5 847.9,1037.3 850.7,1046.3 853.5,1057.0 858.1,1076.0 863.4,1100.1 884.9,1207.0 890.3,1233.0 895.6,1257.0 901.4,1281.7 907.2,1304.8 913.0,1326.0 918.9,1346.1 924.9,1364.4 931.0,1381.6 937.3,1397.6 944.0,1412.8 950.8,1426.8 957.7,1439.7 965.1,1451.7 972.7,1463.0 977.3,1469.1 982.1,1475.0 987.0,1480.8 992.0,1486.1 997.2,1491.4 1002.5,1496.3 1008.0,1501.0 1013.8,1505.6 1019.5,1509.8 1025.7,1514.0 1032.0,1518.0 1038.4,1521.7 1045.1,1525.3 1052.1,1528.7 1059.2,1531.9 1066.7,1535.0 1082.4,1540.7 1099.2,1545.8 1117.4,1550.4 1137.2,1554.5 1158.6,1558.2 1181.8,1561.4 1207.0,1564.2 1234.6,1566.7"/>
<polyline stroke="#0000ff" points="213.2,1581.8 229.6,1578.8 244.5,1575.6 258.0,1572.1 270.4,1568.2 281.7,1564.0 292.0,1559.3 301.6,1554.2 310.3,1548.6 318.3,1542.4 325.8,1535.5 332.7,1527.8 339.0,1519.6 344.8,1510.7 350.3,1500.8 355.4,1489.9 360.1,1478.0 364.2,1466.1 368.0,1453.7 371.6,1440.1 375.0,1425.6 378.2,1410.0 381.4,1392.5 384.5,1373.9 387.4,1354.4 390.3,1332.9 393.0,1310.8 398.6,1258.8 403.7,1204.7 413.8,1090.5 418.2,1046.5 420.8,1026.3 423.1,1012.2 424.3,1007.2 425.5,1003.5 426.7,1001.4 427.7,1000.7 428.6,1001.1 429.6,1002.7 430.6,1005.7 431.7,1009.8 433.7,1021.6 435.9,1039.0 440.0,1080.2 450.0,1198.5 455.5,1256.6 458.6,1285.4 461.6,1311.2 464.9,1335.2 468.1,1356.2 471.8,1377.1 475.6,1394.6 479.5,1409.9 483.8,1423.4 486.0,1429.4 488.2,1434.6 490.6,1439.5 492.9,1443.8 495.3,1447.4 497.9,1450.7 500.4,1453.3 503.0,1455.3 506.4,1457.2 509.8,1458.1 513.2,1458.2 516.6,1457.3 520.0,1455.5 523.4,1452.8 526.7,1449.3 529.9,1444.9 533.0,1439.8 535.9,1434.0 538.7,1427.3 541.6,1419.5 544.4,1411.2 547.1,1401.7 549.6,1391.7 552.2,1380.7 556.5,1359.4 560.7,1334.5 564.8,1306.6 568.9,1274.8 574.8,1221.5 587.8,1089.7 590.5,1064.2 592.9,1044.4 595.1,1029.0 597.1,1017.8 599.2,1009.9 600.2,1007.3 601.1,1005.9 601.7,1005.2 602.3,1005.0 602.9,1005.1 603.6,1005.5 605.0,1007.5 606.3,1010.8 607.7,1015.5 609.2,1022.2 612.1,1038.9 614.7,1057.2 617.4,1079.4 630.9,1202.2 634.8,1235.4 638.3,1263.3 642.4,1292.1 646.7,1318.5 650.9,1341.5 655.4,1362.0 660.3,1381.2 662.9,1389.7 665.4,1397.3 668.1,1404.6 670.9,1411.1 673.8,1417.1 676.7,1422.3 679.7,1427.0 682.8,1431.0 686.0,1434.4 689.4,1437.3 692.8,1439.5 696.2,1441.1 699.8,1442.0 703.6,1442.4 707.6,1442.1 711.7,1441.0 715.8,1439.3 720.1,1436.8 724.3,1433.5 728.4,1429.7 732.5,1425.2 736.6,1419.9 740.5,1414.2 744.4,1407.8 748.3,1400.7 752.1,1393.1 755.8,1384.7 759.4,1376.0 763.0,1366.5 766.5,1356.2 772.8,1336.0 779.0,1313.5 785.1,1288.3 791.2,1260.1 796.5,1233.6 802.0,1204.3 822.2,1088.3 826.6,1065.4 830.6,1047.4 832.9,1037.7 835.2,1029.9 837.4,1023.1 839.6,1017.6 841.8,1013.3 843.8,1010.7 844.9,1009.8 845.9,1009.2 846.9,1008.9 847.9,1009.0 849.1,1009.3 850.5,1010.0 853.0,1012.3 855.6,1015.9 858.3,1021.0 861.0,1027.5 863.8,1035.1 866.7,1044.5 869.6,1054.9 874.3,1074.2 879.6,1097.9 901.6,1204.8 907.0,1230.3 912.3,1253.8 918.1,1278.2 923.9,1300.8 929.7,1321.8 935.4,1341.1 941.4,1359.4 947.4,1376.1 953.5,1391.7 959.8,1406.3 966.4,1420.2 973.2,1433.0 980.4,1445.1 987.7,1456.2 992.3,1462.6 996.9,1468.5 1001.7,1474.3 1006.4,1479.7 1011.5,1485.0 1016.7,1490.0 1021.9,1494.8 1027.4,1499.4 1033.0,1503.9 1038.8,1508.1 1044.7,1512.1 1051.0,1516.0 1057.3,1519.7 1064.0,1523.2 1070.8,1526.6 1077.9,1529.8 1092.8,1535.7 1108.8,1541.1 1126.0,1546.0 1144.3,1550.3 1164.3,1554.2 1185.9,1557.7 1209.2,1560.7 1234.6,1563.4"/>
<polyline stroke="#008b8b" points="213.2,1582.0 229.6,1579.0 244.5,1575.8 258.0,1572.2 270.4,1568.3 281.7,1564.1 292.0,1559.3 301.6,1554.1 310.3,1548.4 318.3,1542.2 325.8,1535.2 332.6,1527.7 339.0,1519.2 345.0,1509.9 350.4,1500.0 355.6,1489.1 360.5,1476.7 364.6,1464.9 368.3,1452.5 372.1,1438.4 375.5,1423.9 378.7,1408.4 381.9,1391.0 385.0,1372.5 388.1,1351.9 391.0,1330.2 393.7,1307.9 399.1,1256.9 404.2,1202.1 414.1,1087.9 418.4,1045.2 420.8,1026.1 423.1,1011.9 424.3,1006.8 425.4,1003.6 426.5,1001.4 427.1,1000.9 427.6,1000.7 428.4,1001.1 429.4,1002.7 430.5,1005.6 431.5,1009.8 433.5,1021.5 435.7,1038.7 439.7,1077.7 449.9,1196.8 455.3,1254.3 458.4,1282.7 461.5,1308.0 464.7,1331.7 467.9,1352.3 471.7,1372.9 475.4,1390.2 479.5,1405.9 483.8,1419.3 486.0,1425.2 488.4,1430.8 490.7,1435.7 493.1,1439.9 495.5,1443.6 498.1,1446.8 500.6,1449.5 503.3,1451.7 506.6,1453.5 510.0,1454.5 513.4,1454.6 516.8,1453.8 520.2,1452.0 523.4,1449.4 526.7,1446.0 529.7,1441.8 532.8,1436.6 535.7,1430.9 538.6,1424.2 541.3,1416.9 544.0,1408.6 546.7,1399.2 549.3,1389.3 551.9,1378.4 556.1,1357.5 560.4,1333.0 564.6,1304.7 568.7,1273.7 572.3,1243.6 575.9,1211.0 588.8,1083.8 591.2,1062.6 593.4,1045.1 595.6,1030.1 597.8,1018.3 599.9,1010.7 600.9,1008.1 601.9,1006.4 602.6,1005.8 603.1,1005.5 603.8,1005.6 604.5,1006.0 605.8,1007.9 607.2,1011.2 608.6,1015.9 610.1,1022.6 613.0,1039.4 615.5,1057.7 618.3,1080.1 632.2,1208.8 636.0,1240.8 639.7,1270.3 644.0,1300.5 648.4,1328.0 653.0,1352.7 657.6,1373.7 660.1,1383.9 662.7,1393.1 665.4,1401.9 668.1,1409.9 671.0,1417.3 673.9,1423.9 677.0,1430.0 680.1,1435.2 683.3,1439.9 686.7,1444.1 690.1,1447.5 693.7,1450.3 697.4,1452.5 701.3,1454.2 705.3,1455.1 709.3,1455.4 713.9,1455.0 718.5,1453.9 723.1,1452.0 727.7,1449.4 732.5,1445.9 737.1,1441.8 741.7,1436.9 746.1,1431.5 750.4,1425.5 754.6,1418.8 758.9,1411.3 763.0,1403.3 767.1,1394.5 771.0,1385.2 774.9,1375.1 778.6,1364.6 785.4,1343.1 791.9,1319.7 798.4,1293.2 804.7,1264.4 810.1,1237.1 815.9,1205.8 836.9,1085.3 841.3,1062.3 845.2,1044.2 847.6,1034.5 849.8,1026.6 852.0,1019.8 854.2,1014.3 856.4,1010.0 858.5,1007.3 859.5,1006.4 860.5,1005.8 861.6,1005.5 862.7,1005.5 863.9,1005.8 865.3,1006.5 866.7,1007.6 868.0,1009.0 870.7,1012.8 873.5,1017.9 876.2,1024.3 879.1,1032.3 882.0,1041.5 885.0,1052.4 890.0,1072.1 895.4,1096.1 917.6,1201.8 928.3,1250.0 934.1,1274.0 939.9,1296.4 945.7,1317.2 951.4,1336.5 957.2,1354.2 963.0,1370.5 969.0,1385.8 975.3,1400.6 981.6,1414.0 988.2,1426.9 995.0,1438.8 1002.2,1450.0 1011.0,1462.4 1015.6,1468.3 1020.4,1474.0 1030.1,1484.4 1035.2,1489.3 1040.5,1494.1 1045.9,1498.7 1051.6,1503.1 1057.2,1507.2 1063.1,1511.2 1069.3,1515.0 1075.6,1518.7 1088.7,1525.5 1102.8,1531.7 1117.8,1537.4 1134.0,1542.5 1151.2,1547.2 1169.7,1551.3 1189.6,1555.1 1211.3,1558.4 1234.6,1561.4"/>
<polyline stroke="#ff00ff" points="213.2,1581.9 229.6,1578.9 244.4,1575.7 257.8,1572.1 270.3,1568.2 281.7,1563.9 292.0,1559.2 301.6,1554.1 310.3,1548.5 318.3,1542.3 325.8,1535.5 332.6,1528.1 338.9,1520.0 344.7,1511.1 350.1,1501.3 355.2,1490.5 360.0,1478.6 363.9,1467.2 367.6,1454.9 371.2,1441.4 374.6,1426.9 377.9,1411.4 381.1,1394.0 384.2,1375.6 387.0,1356.3 389.9,1335.0 392.8,1311.6 398.5,1260.0 403.6,1206.5 413.8,1091.6 416.2,1067.0 418.4,1046.4 421.1,1025.4 423.5,1011.7 424.7,1006.9 425.9,1003.4 427.1,1001.3 428.1,1000.7 428.9,1001.2 430.0,1003.0 431.0,1006.1 432.0,1010.5 434.0,1022.9 436.1,1039.5 440.0,1079.8 449.7,1196.1 455.0,1253.7 458.0,1283.1 460.9,1308.0 463.8,1330.1 466.9,1350.7 470.3,1370.5 473.9,1388.0 477.6,1403.3 481.5,1416.2 485.6,1427.0 487.8,1431.7 490.1,1435.8 492.3,1439.3 494.5,1442.2 496.9,1444.7 499.2,1446.6 502.3,1448.3 505.5,1449.1 508.6,1449.0 511.8,1448.0 515.1,1446.1 518.1,1443.4 521.4,1439.7 524.4,1435.2 527.5,1429.8 530.4,1423.8 533.3,1416.8 536.0,1409.3 538.7,1400.7 541.3,1391.8 543.9,1381.8 546.4,1370.8 550.7,1349.8 554.9,1325.5 559.0,1298.5 563.1,1268.1 566.5,1240.0 570.2,1206.5 583.0,1083.9 585.4,1063.1 587.6,1045.8 590.0,1029.9 592.2,1018.2 594.4,1010.1 595.4,1007.6 596.5,1006.0 597.1,1005.3 597.8,1005.1 598.3,1005.2 599.0,1005.6 600.2,1007.4 601.4,1010.4 602.6,1014.6 604.0,1020.7 606.7,1037.0 609.1,1054.9 611.8,1078.5 625.6,1214.1 629.5,1249.4 633.4,1281.4 638.0,1314.7 642.6,1343.3 647.4,1368.6 652.3,1390.4 655.0,1400.8 657.9,1410.8 661.0,1420.1 664.1,1428.3 667.3,1435.9 670.5,1442.6 673.9,1448.6 677.5,1454.1 681.3,1458.9 685.2,1463.1 689.3,1466.7 693.7,1469.7 698.3,1472.0 702.9,1473.6 707.6,1474.5 712.6,1474.8 718.2,1474.3 723.8,1473.0 729.4,1470.9 735.2,1467.9 740.8,1464.3 746.5,1459.8 751.9,1454.7 757.4,1448.8 762.5,1442.4 767.6,1435.2 772.5,1427.4 777.4,1418.8 782.2,1409.4 786.8,1399.5 791.2,1389.1 795.7,1377.6 799.6,1366.6 803.3,1355.3 810.6,1330.7 818.0,1302.6 825.1,1271.6 831.2,1242.3 837.7,1208.8 855.6,1108.9 860.5,1082.2 865.1,1059.3 869.4,1040.4 871.8,1031.2 874.2,1023.0 876.5,1016.1 878.7,1010.8 881.0,1006.7 883.2,1003.9 884.4,1002.9 885.4,1002.3 886.4,1002.1 887.6,1002.1 888.8,1002.4 890.2,1003.1 891.5,1004.2 892.9,1005.6 895.4,1009.2 898.2,1014.3 900.9,1020.7 903.8,1028.9 906.7,1038.2 909.7,1049.3 914.5,1068.6 919.9,1092.9 941.6,1197.7 952.1,1245.9 957.7,1269.6 963.4,1291.8 968.8,1311.9 974.4,1331.0 979.9,1348.2 985.3,1364.1 990.9,1379.1 996.7,1393.3 1002.7,1406.7 1008.8,1419.2 1015.3,1431.2 1021.9,1442.4 1030.3,1454.9 1039.0,1466.4 1048.2,1477.1 1057.7,1486.8 1067.9,1495.9 1078.6,1504.2 1090.0,1511.9 1102.3,1519.0 1115.2,1525.4 1129.0,1531.3 1143.7,1536.6 1159.3,1541.5 1176.2,1545.9 1194.2,1549.8 1213.6,1553.4 1234.6,1556.5"/>
</g>
<path d="M301.1,1602.5v-7M301.1,1000.8v7M385.7,1602.5v-13M385.7,1000.8v13M470.2,1602.5v-7M470.2,1000.8v7M554.8,1602.5v-13M554.8,1000.8v13M639.4,1602.5v-7M639.4,1000.8v7M723.9,1602.5v-13M723.9,1000.8v13M808.5,1602.5v-7M808.5,1000.8v7M893.0,1602.5v-13M893.0,1000.8v13M977.5,1602.5v-7M977.5,1000.8v7M1062.1,1602.5v-13M1062.1,1000.8v13M1146.6,1602.5v-7M1146.6,1000.8v7M216.5,1526.7h7M1231.6,1526.7h-7M216.5,1451.4h13M1231.6,1451.4h-13M216.5,1376.1h7M1231.6,1376.1h-7M216.5,1300.8h13M1231.6,1300.8h-13M216.5,1225.4h7M1231.6,1225.4h-7M216.5,1150.1h13M1231.6,1150.1h-13M216.5,1074.8h7M1231.6,1074.8h-7" stroke="#3c3c3c" stroke-width="3" fill="none"/>
<rect x="216.5" y="1000.8" width="1015.0999999999999" height="601.7" fill="none" stroke="#3c3c3c" stroke-width="3.4"/>
<g clip-path="url(#clipd)" fill="none" stroke-width="4.6" stroke-linejoin="round">
<polyline stroke="#000000" points="1472.9,1588.3 1491.5,1585.6 1508.4,1582.6 1523.7,1579.3 1537.6,1575.7 1550.2,1571.7 1561.8,1567.2 1572.3,1562.4 1581.9,1557.0 1590.9,1551.0 1599.0,1544.4 1606.5,1537.1 1613.4,1529.0 1619.9,1520.1 1625.9,1510.2 1631.3,1499.6 1636.5,1487.8 1640.8,1476.4 1644.9,1463.7 1648.9,1449.7 1652.6,1435.1 1656.1,1419.3 1659.5,1401.3 1662.7,1383.0 1665.9,1362.5 1668.8,1340.9 1671.7,1318.3 1677.3,1266.6 1682.4,1212.2 1692.4,1098.4 1696.7,1055.3 1699.2,1035.6 1701.5,1021.9 1702.7,1016.9 1703.8,1013.4 1705.0,1011.3 1706.0,1010.7 1707.0,1011.1 1708.2,1012.9 1709.2,1015.5 1710.3,1019.8 1712.6,1032.1 1715.0,1048.7 1717.0,1065.6 1719.3,1087.8 1729.6,1196.3 1734.9,1247.7 1737.9,1273.5 1740.8,1296.8 1743.8,1317.8 1747.0,1337.4 1750.5,1356.3 1753.9,1372.5 1757.6,1386.8 1761.2,1398.7 1765.2,1409.3 1767.2,1413.7 1769.2,1417.5 1771.2,1420.8 1773.4,1423.8 1775.4,1426.1 1777.5,1427.9 1780.0,1429.4 1782.5,1430.1 1785.0,1430.0 1787.5,1429.2 1790.0,1427.5 1792.3,1425.2 1794.6,1422.1 1796.9,1418.1 1799.2,1413.3 1801.4,1408.0 1803.6,1401.8 1805.5,1395.2 1809.5,1379.5 1813.5,1360.0 1816.8,1340.5 1820.1,1317.8 1823.3,1293.2 1826.6,1264.0 1832.3,1207.1 1842.7,1090.4 1846.5,1053.6 1848.5,1038.2 1850.3,1027.1 1852.2,1019.3 1853.2,1016.6 1854.0,1015.1 1854.7,1014.6 1855.2,1014.5 1855.8,1014.8 1856.5,1015.4 1857.8,1017.6 1859.1,1021.3 1860.5,1026.2 1861.8,1032.4 1864.6,1049.3 1867.1,1067.6 1869.8,1089.9 1883.4,1217.5 1887.2,1250.6 1890.8,1279.7 1895.0,1309.4 1899.3,1336.6 1903.8,1360.8 1908.2,1381.5 1910.7,1391.5 1913.4,1401.1 1916.0,1409.7 1918.7,1417.4 1921.5,1424.7 1924.5,1431.4 1927.5,1437.2 1930.6,1442.5 1933.8,1447.0 1937.1,1450.9 1940.6,1454.3 1944.2,1457.0 1948.1,1459.1 1951.9,1460.6 1955.9,1461.4 1960.0,1461.7 1964.7,1461.1 1969.3,1459.9 1973.9,1457.9 1978.8,1455.0 1983.6,1451.4 1988.2,1447.2 1992.9,1442.3 1997.3,1436.8 2001.8,1430.5 2006.1,1423.6 2010.4,1416.0 2014.6,1407.9 2018.6,1399.3 2022.6,1389.9 2026.5,1379.6 2030.3,1368.9 2037.2,1347.4 2043.6,1324.1 2050.1,1297.8 2056.6,1268.3 2062.0,1240.9 2067.8,1209.7 2089.1,1087.6 2093.6,1064.4 2097.5,1046.1 2099.9,1036.7 2102.2,1028.5 2104.5,1021.5 2106.7,1016.2 2108.8,1012.1 2111.0,1009.3 2113.0,1007.9 2114.0,1007.6 2115.1,1007.7 2116.3,1008.1 2117.4,1008.7 2118.6,1009.7 2119.9,1011.2 2122.4,1015.0 2124.9,1020.1 2127.4,1026.4 2130.1,1034.4 2132.7,1043.7 2135.5,1054.6 2140.0,1074.1 2145.0,1098.0 2165.4,1204.4 2175.5,1254.0 2181.0,1278.7 2186.3,1301.0 2191.6,1321.8 2197.1,1341.5 2202.6,1359.6 2208.0,1376.2 2213.7,1391.8 2219.5,1406.5 2225.5,1420.1 2231.8,1433.2 2238.2,1445.2 2245.0,1456.6 2253.5,1469.1 2262.3,1480.5 2266.9,1486.0 2271.6,1491.0 2276.4,1495.9 2281.4,1500.6 2286.5,1505.2 2291.8,1509.5 2297.3,1513.7 2302.9,1517.6 2308.7,1521.4 2314.7,1525.0 2327.3,1531.8 2340.8,1537.9 2355.2,1543.5 2370.6,1548.6 2387.4,1553.2 2405.3,1557.3 2424.7,1561.0 2445.6,1564.3 2468.2,1567.2"/>
<polyline stroke="#ff0000" points="1472.9,1587.2 1490.8,1584.5 1507.1,1581.5 1521.7,1578.3 1535.0,1574.7 1547.1,1570.7 1558.0,1566.4 1568.1,1561.5 1577.3,1556.2 1585.7,1550.2 1593.4,1543.7 1600.5,1536.5 1607.1,1528.4 1613.3,1519.5 1618.9,1509.7 1624.2,1498.8 1629.0,1487.1 1633.2,1475.4 1637.2,1462.4 1640.8,1448.8 1644.3,1433.9 1647.6,1417.7 1650.8,1400.3 1653.7,1381.8 1656.7,1361.0 1659.5,1339.1 1662.2,1316.3 1667.5,1264.0 1672.3,1209.3 1681.8,1092.9 1685.8,1050.5 1688.1,1030.9 1690.2,1017.4 1691.4,1012.3 1692.4,1009.2 1693.4,1007.3 1693.9,1006.9 1694.4,1006.7 1695.4,1007.2 1696.5,1009.1 1697.5,1011.8 1698.7,1016.1 1701.0,1028.6 1703.3,1045.3 1705.3,1062.5 1707.7,1084.9 1718.3,1198.2 1723.9,1253.1 1727.1,1280.3 1730.2,1304.8 1733.4,1326.6 1736.7,1346.9 1740.3,1366.3 1744.2,1383.6 1748.1,1398.7 1752.3,1411.8 1756.6,1422.8 1758.8,1427.4 1761.1,1431.7 1763.4,1435.4 1765.7,1438.5 1768.1,1441.0 1770.5,1443.2 1773.4,1444.8 1776.2,1445.7 1779.0,1445.8 1781.8,1445.0 1784.5,1443.5 1787.1,1441.2 1789.8,1438.0 1792.3,1434.2 1794.8,1429.5 1797.1,1424.3 1799.4,1418.1 1801.7,1411.1 1804.1,1403.0 1806.2,1394.5 1810.4,1375.2 1814.0,1354.8 1817.5,1332.2 1821.0,1306.2 1824.6,1275.5 1830.8,1215.9 1842.0,1094.4 1846.2,1055.7 1848.4,1039.5 1850.3,1027.7 1852.3,1019.5 1853.3,1016.8 1854.2,1015.4 1854.8,1014.7 1855.5,1014.6 1856.1,1014.8 1856.8,1015.3 1858.1,1017.5 1859.5,1021.1 1860.8,1026.0 1862.1,1032.1 1865.1,1050.1 1867.6,1068.6 1870.2,1091.1 1883.7,1218.0 1887.3,1250.1 1890.8,1278.4 1894.8,1307.7 1899.0,1334.7 1903.1,1358.1 1907.4,1378.9 1912.1,1397.5 1914.5,1406.1 1917.0,1413.8 1919.7,1421.0 1922.3,1427.4 1925.0,1432.9 1927.8,1438.0 1930.8,1442.5 1933.8,1446.3 1936.9,1449.5 1940.1,1452.1 1943.4,1454.1 1946.9,1455.6 1950.5,1456.4 1954.2,1456.6 1958.5,1456.2 1962.8,1455.0 1967.1,1453.0 1971.6,1450.3 1976.1,1446.8 1980.6,1442.6 1984.9,1437.9 1989.2,1432.4 1993.4,1426.4 1997.5,1419.7 2001.6,1412.1 2005.6,1404.1 2009.4,1395.7 2013.3,1386.5 2017.1,1376.5 2020.7,1366.0 2027.2,1345.4 2033.7,1321.8 2040.0,1295.9 2046.1,1267.7 2051.6,1240.2 2057.2,1209.7 2078.0,1090.5 2082.3,1068.1 2086.3,1049.8 2088.6,1040.4 2090.9,1032.1 2093.1,1025.5 2095.2,1020.1 2097.4,1015.9 2099.5,1013.1 2101.5,1011.6 2102.5,1011.3 2103.7,1011.4 2104.8,1011.7 2106.0,1012.4 2108.3,1014.6 2110.6,1018.1 2113.1,1023.2 2115.6,1029.5 2118.1,1037.0 2120.8,1046.2 2123.6,1057.2 2127.9,1076.0 2132.9,1100.1 2153.3,1207.6 2163.2,1256.8 2168.7,1281.6 2174.0,1304.1 2179.5,1325.5 2185.0,1345.2 2190.4,1363.3 2196.1,1380.3 2201.9,1396.1 2207.9,1410.9 2214.0,1424.7 2220.5,1437.7 2227.1,1449.7 2234.1,1461.0 2238.4,1467.3 2242.7,1473.3 2247.2,1479.0 2251.7,1484.4 2256.5,1489.8 2261.3,1494.7 2266.3,1499.5 2271.4,1504.2 2276.7,1508.6 2282.2,1512.8 2287.8,1516.8 2293.8,1520.7 2299.8,1524.4 2306.1,1527.9 2312.6,1531.3 2319.2,1534.4 2333.3,1540.3 2348.4,1545.7 2364.7,1550.5 2382.2,1554.8 2401.1,1558.7 2421.7,1562.1 2444.0,1565.2 2468.2,1567.9"/>
<polyline stroke="#0000ff" points="1472.9,1585.4 1489.7,1582.7 1504.8,1579.8 1518.5,1576.6 1531.0,1573.0 1542.3,1569.1 1552.5,1564.7 1561.8,1560.0 1570.5,1554.6 1578.3,1548.8 1585.6,1542.2 1592.2,1535.0 1598.3,1527.1 1604.0,1518.3 1609.3,1508.6 1614.1,1498.1 1618.7,1486.2 1622.6,1474.7 1626.2,1462.1 1629.7,1448.3 1632.8,1434.1 1636.0,1417.9 1639.0,1400.5 1641.8,1382.0 1644.6,1361.2 1647.3,1339.3 1649.8,1316.6 1654.7,1264.6 1659.4,1208.3 1668.2,1093.1 1672.0,1049.8 1674.1,1030.5 1676.1,1017.3 1677.1,1012.6 1678.1,1009.2 1679.1,1007.2 1680.0,1006.7 1680.5,1006.8 1681.0,1007.2 1681.9,1008.8 1682.9,1011.6 1684.1,1016.1 1686.3,1028.3 1688.4,1044.7 1690.4,1062.8 1692.6,1084.8 1703.0,1203.0 1708.7,1260.7 1711.8,1289.0 1715.1,1315.6 1718.4,1339.1 1721.8,1359.6 1725.6,1380.0 1729.6,1397.9 1733.9,1414.1 1738.4,1427.8 1740.7,1433.8 1743.2,1439.5 1745.7,1444.6 1748.1,1448.9 1750.8,1452.9 1753.5,1456.3 1756.1,1459.0 1758.9,1461.4 1762.2,1463.3 1765.7,1464.4 1769.2,1464.7 1772.5,1464.0 1775.8,1462.6 1779.2,1460.2 1782.3,1457.0 1785.5,1452.9 1788.5,1448.1 1791.3,1442.6 1794.1,1436.1 1796.8,1429.0 1799.4,1420.8 1801.9,1412.2 1804.4,1402.4 1806.9,1391.4 1811.0,1370.3 1815.2,1345.4 1819.2,1317.6 1823.1,1285.8 1828.9,1232.6 1841.7,1099.7 1844.4,1074.3 1846.7,1054.5 1848.8,1039.0 1850.8,1027.7 1852.8,1019.6 1853.8,1016.9 1854.8,1015.1 1855.5,1014.5 1856.0,1014.3 1856.6,1014.3 1857.3,1014.8 1858.5,1016.5 1859.8,1019.9 1861.1,1024.7 1862.5,1031.0 1865.3,1048.2 1867.6,1065.9 1870.2,1089.0 1883.0,1213.6 1886.7,1246.7 1890.0,1274.5 1893.8,1303.5 1897.8,1330.1 1901.8,1353.2 1905.8,1373.1 1910.2,1391.8 1912.6,1400.1 1915.0,1408.0 1917.5,1415.1 1920.0,1421.3 1922.5,1426.8 1925.2,1431.8 1928.0,1436.3 1930.8,1440.1 1933.8,1443.4 1936.8,1446.0 1939.9,1448.0 1943.1,1449.4 1946.4,1450.3 1949.9,1450.6 1953.9,1450.2 1957.8,1449.1 1962.0,1447.2 1966.1,1444.6 1970.3,1441.2 1974.3,1437.4 1978.4,1432.6 1982.4,1427.3 1986.4,1421.3 1990.2,1414.9 1994.0,1407.7 1997.8,1399.8 2001.5,1391.5 2005.1,1382.4 2008.6,1372.9 2012.1,1362.7 2018.2,1342.6 2024.4,1319.8 2030.3,1294.8 2036.3,1267.0 2041.5,1240.9 2046.9,1211.0 2067.0,1094.6 2071.3,1072.0 2075.3,1053.4 2077.6,1044.0 2079.8,1036.2 2081.9,1029.5 2084.1,1024.0 2086.3,1019.8 2088.3,1017.1 2090.2,1015.6 2091.2,1015.3 2092.4,1015.3 2093.6,1015.6 2094.7,1016.3 2095.9,1017.2 2097.2,1018.7 2099.5,1022.1 2102.0,1027.1 2104.5,1033.3 2107.2,1041.3 2109.8,1050.4 2112.6,1061.3 2117.1,1080.6 2122.1,1104.4 2142.5,1210.4 2152.6,1259.7 2158.3,1284.9 2163.7,1307.6 2169.2,1328.6 2174.9,1348.5 2180.5,1366.7 2186.3,1383.8 2192.1,1399.3 2198.2,1414.2 2204.6,1427.9 2211.2,1440.9 2218.2,1453.1 2225.3,1464.2 2229.6,1470.4 2234.1,1476.3 2238.7,1482.1 2243.4,1487.5 2248.2,1492.6 2253.2,1497.6 2258.3,1502.4 2263.6,1506.9 2269.1,1511.3 2274.7,1515.5 2280.5,1519.4 2286.7,1523.3 2293.0,1526.9 2299.4,1530.4 2306.1,1533.7 2313.1,1536.8 2327.7,1542.6 2343.2,1547.8 2360.2,1552.6 2378.4,1556.8 2398.2,1560.6 2419.6,1564.0 2442.8,1567.0 2468.2,1569.6"/>
<polyline stroke="#008b8b" points="1472.9,1582.5 1488.3,1580.0 1502.3,1577.3 1515.0,1574.2 1526.5,1570.9 1536.9,1567.2 1546.6,1563.0 1555.2,1558.5 1563.2,1553.5 1570.5,1547.9 1577.1,1541.8 1583.2,1534.9 1588.7,1527.6 1593.9,1519.3 1598.5,1510.3 1602.8,1500.3 1606.8,1489.3 1610.1,1478.6 1613.3,1466.8 1616.2,1454.0 1619.2,1439.3 1622.1,1423.6 1624.7,1406.9 1627.4,1388.1 1629.9,1368.5 1634.8,1323.0 1639.6,1270.7 1644.1,1215.2 1652.9,1098.3 1656.9,1052.3 1659.1,1032.5 1661.2,1017.8 1662.2,1013.0 1663.2,1009.5 1664.2,1007.4 1664.7,1006.9 1665.2,1006.7 1665.7,1006.8 1666.4,1007.2 1667.5,1009.0 1668.7,1012.0 1670.0,1016.9 1672.5,1029.7 1675.1,1048.2 1677.5,1067.6 1680.0,1090.9 1691.6,1209.9 1697.7,1267.3 1701.2,1296.3 1704.5,1321.3 1708.0,1344.7 1711.5,1365.4 1715.3,1385.1 1719.3,1402.7 1723.4,1418.1 1727.7,1431.3 1729.9,1436.9 1732.2,1442.2 1734.5,1446.9 1737.0,1451.3 1739.3,1454.8 1741.8,1458.0 1744.3,1460.6 1747.0,1462.7 1750.3,1464.6 1753.6,1465.6 1756.9,1465.7 1760.3,1464.9 1763.6,1463.3 1766.7,1460.8 1769.9,1457.3 1772.9,1453.1 1775.7,1448.2 1778.5,1442.2 1781.2,1435.5 1783.6,1428.3 1786.1,1419.9 1788.5,1411.1 1790.8,1401.0 1793.1,1389.8 1796.4,1371.4 1799.6,1351.0 1802.7,1327.8 1805.9,1301.3 1809.4,1268.4 1813.0,1229.8 1824.1,1097.5 1827.9,1056.3 1830.1,1037.0 1832.3,1021.8 1834.2,1012.2 1835.2,1009.1 1836.1,1007.5 1836.7,1006.8 1837.2,1006.7 1837.9,1006.9 1838.7,1007.5 1840.1,1009.7 1841.5,1013.6 1842.9,1018.4 1844.4,1025.2 1847.4,1042.7 1849.8,1060.6 1852.7,1083.6 1866.4,1209.0 1870.2,1241.4 1873.9,1270.1 1878.0,1299.6 1882.4,1326.7 1886.7,1350.4 1891.2,1371.5 1896.1,1391.1 1898.6,1399.6 1901.3,1407.7 1903.9,1415.0 1906.7,1421.8 1909.6,1427.8 1912.4,1433.0 1915.4,1437.8 1918.5,1442.1 1921.7,1445.6 1925.0,1448.5 1928.3,1450.8 1931.8,1452.5 1935.3,1453.6 1938.9,1454.1 1942.8,1453.9 1946.7,1453.0 1950.7,1451.4 1954.7,1449.1 1958.7,1446.0 1962.7,1442.3 1966.5,1438.0 1970.3,1432.9 1973.9,1427.4 1977.6,1421.2 1981.2,1414.3 1984.7,1406.9 1988.2,1398.7 1991.7,1389.8 1995.0,1380.5 1998.3,1370.5 2004.3,1350.3 2010.3,1327.3 2016.1,1302.2 2021.9,1274.3 2027.0,1247.4 2032.3,1217.7 2052.2,1099.3 2056.6,1076.0 2060.4,1057.6 2062.7,1047.8 2064.9,1039.7 2067.0,1032.8 2069.2,1027.1 2071.3,1022.7 2073.3,1019.8 2074.5,1018.8 2075.5,1018.2 2076.5,1017.9 2077.5,1017.9 2078.6,1018.2 2080.0,1018.9 2082.4,1021.3 2084.9,1024.9 2087.6,1030.1 2090.2,1036.6 2092.9,1044.4 2095.7,1053.8 2098.7,1065.1 2103.3,1084.7 2108.7,1109.5 2130.2,1218.8 2135.7,1245.5 2140.8,1269.3 2146.6,1294.7 2152.3,1317.7 2157.9,1339.0 2163.7,1359.2 2169.5,1377.7 2175.4,1394.5 2181.3,1410.2 2187.5,1424.7 2193.8,1438.2 2200.4,1450.8 2207.2,1462.3 2214.3,1473.0 2218.7,1478.8 2223.0,1484.2 2227.4,1489.4 2231.9,1494.3 2236.7,1499.1 2241.5,1503.5 2246.7,1507.8 2252.0,1512.0 2257.5,1515.9 2263.1,1519.6 2268.9,1523.1 2275.1,1526.5 2281.4,1529.7 2288.0,1532.8 2302.1,1538.6 2317.4,1543.7 2334.0,1548.4 2351.9,1552.6 2371.5,1556.3 2392.5,1559.6 2415.6,1562.6 2440.6,1565.1 2468.2,1567.4"/>
<polyline stroke="#ff00ff" points="1472.9,1581.7 1485.8,1578.7 1497.6,1575.3 1508.4,1571.7 1518.4,1567.8 1527.5,1563.4 1535.9,1558.7 1543.6,1553.6 1550.7,1547.9 1557.2,1541.8 1563.2,1535.2 1568.6,1528.0 1573.6,1520.2 1578.3,1511.7 1582.7,1502.0 1586.9,1491.5 1590.7,1480.2 1593.9,1469.5 1597.0,1457.4 1600.0,1444.4 1602.8,1430.8 1605.6,1415.5 1608.3,1399.6 1613.4,1364.2 1618.7,1320.5 1624.0,1269.5 1629.0,1215.6 1639.0,1100.9 1643.5,1055.6 1646.1,1034.1 1648.6,1019.0 1649.9,1013.3 1651.1,1009.7 1652.2,1007.5 1652.9,1006.9 1653.4,1006.7 1653.9,1006.8 1654.4,1007.2 1655.6,1009.1 1656.6,1011.9 1657.7,1016.5 1660.0,1029.6 1662.5,1048.7 1666.8,1090.9 1677.8,1214.8 1683.6,1274.7 1686.9,1304.9 1690.2,1332.1 1693.6,1356.1 1696.9,1377.3 1700.7,1398.2 1704.5,1415.9 1708.5,1431.2 1712.6,1444.2 1714.8,1449.9 1717.1,1455.3 1719.4,1460.1 1721.8,1464.2 1724.3,1467.9 1726.7,1471.0 1729.4,1473.7 1732.0,1475.8 1735.7,1477.8 1739.3,1478.9 1743.0,1479.0 1746.6,1478.1 1750.3,1476.4 1753.8,1473.8 1757.3,1470.2 1760.6,1465.8 1763.7,1460.6 1766.7,1454.8 1769.7,1447.9 1772.5,1440.2 1775.2,1432.0 1777.8,1422.6 1780.5,1411.9 1783.0,1400.7 1786.6,1381.9 1790.1,1361.2 1793.6,1337.4 1797.1,1310.4 1801.1,1275.6 1805.0,1236.7 1817.5,1100.3 1821.8,1057.4 1824.3,1037.0 1826.5,1023.0 1828.6,1013.1 1829.8,1009.6 1830.8,1007.7 1831.4,1006.9 1832.1,1006.7 1832.8,1006.8 1833.6,1007.4 1834.9,1009.5 1836.4,1013.3 1837.7,1017.9 1839.2,1024.5 1842.4,1042.7 1845.0,1061.6 1847.9,1084.5 1861.6,1209.2 1865.4,1241.5 1868.9,1268.9 1873.1,1298.5 1877.2,1324.9 1881.4,1348.0 1885.7,1368.7 1890.3,1387.6 1892.8,1396.4 1895.3,1404.3 1897.8,1411.4 1900.4,1418.2 1903.1,1424.1 1905.8,1429.3 1908.6,1434.1 1911.4,1438.1 1914.4,1441.7 1917.4,1444.5 1920.5,1446.9 1923.7,1448.6 1927.0,1449.8 1930.3,1450.3 1934.0,1450.2 1937.6,1449.4 1941.3,1447.9 1945.1,1445.7 1948.9,1442.7 1952.5,1439.3 1956.2,1435.1 1959.8,1430.3 1963.5,1424.8 1967.0,1418.8 1970.5,1412.1 1973.8,1405.1 1977.1,1397.4 1980.4,1389.0 1983.7,1379.8 1987.0,1369.9 1993.0,1350.1 1998.8,1328.3 2004.6,1303.9 2010.6,1276.0 2015.7,1250.0 2021.2,1220.4 2041.3,1105.7 2045.8,1082.4 2049.8,1063.9 2052.2,1053.8 2054.6,1045.4 2056.9,1038.3 2059.1,1032.8 2061.2,1028.6 2063.4,1025.7 2064.5,1024.7 2065.5,1024.1 2066.5,1023.8 2067.5,1023.8 2068.7,1024.1 2070.0,1024.8 2072.5,1027.2 2075.0,1030.8 2077.5,1035.7 2080.1,1042.2 2082.8,1050.0 2085.6,1059.5 2088.4,1070.2 2093.1,1089.9 2098.2,1114.0 2119.8,1224.1 2125.2,1250.9 2130.4,1274.9 2136.2,1300.4 2141.8,1323.5 2147.5,1344.9 2153.3,1365.1 2159.1,1383.5 2164.9,1400.3 2170.9,1415.9 2177.2,1430.7 2183.6,1444.2 2190.3,1456.6 2197.3,1468.0 2204.4,1478.4 2208.7,1484.0 2213.0,1489.2 2217.7,1494.3 2222.3,1499.1 2227.1,1503.6 2232.1,1507.9 2237.2,1512.0 2242.5,1515.9 2248.0,1519.6 2253.8,1523.1 2259.8,1526.4 2266.1,1529.7 2272.6,1532.7 2279.4,1535.6 2286.5,1538.3 2294.0,1540.9 2309.7,1545.7 2327.0,1550.1 2345.7,1553.9 2366.1,1557.2 2388.4,1560.2 2412.6,1562.7 2439.1,1564.9 2468.2,1566.7"/>
</g>
<path d="M1558.6,1607.5v-7M1558.6,1006.5v7M1641.0,1607.5v-13M1641.0,1006.5v13M1723.4,1607.5v-7M1723.4,1006.5v7M1805.8,1607.5v-13M1805.8,1006.5v13M1888.2,1607.5v-7M1888.2,1006.5v7M1970.5,1607.5v-13M1970.5,1006.5v13M2052.9,1607.5v-7M2052.9,1006.5v7M2135.3,1607.5v-13M2135.3,1006.5v13M2217.7,1607.5v-7M2217.7,1006.5v7M2300.1,1607.5v-13M2300.1,1006.5v13M2382.5,1607.5v-7M2382.5,1006.5v7M1477.5,1533.1h7M2465.0,1533.1h-7M1477.5,1457.8h13M2465.0,1457.8h-13M1477.5,1382.4h7M2465.0,1382.4h-7M1477.5,1307.0h13M2465.0,1307.0h-13M1477.5,1231.6h7M2465.0,1231.6h-7M1477.5,1156.2h13M2465.0,1156.2h-13M1477.5,1080.9h7M2465.0,1080.9h-7" stroke="#3c3c3c" stroke-width="3" fill="none"/>
<rect x="1477.5" y="1006.5" width="987.5" height="601.0" fill="none" stroke="#3c3c3c" stroke-width="3.4"/>
<rect x="904.9" y="132.7" width="304.5000000000001" height="212.7" fill="#fff" stroke="#3c3c3c" stroke-width="2.8"/>
<line x1="910.1" y1="152.1" x2="989.3" y2="152.1" stroke="#000000" stroke-width="4.6"/>
<line x1="910.1" y1="192.4" x2="989.3" y2="192.4" stroke="#ff0000" stroke-width="4.6"/>
<line x1="910.1" y1="231.2" x2="989.3" y2="231.2" stroke="#0000ff" stroke-width="4.6"/>
<line x1="910.1" y1="271.5" x2="989.3" y2="271.5" stroke="#008b8b" stroke-width="4.6"/>
<line x1="910.1" y1="311.0" x2="989.3" y2="311.0" stroke="#ff00ff" stroke-width="4.6"/>
<rect x="2142.7" y="130.5" width="311.3000000000002" height="209.5" fill="#fff" stroke="#3c3c3c" stroke-width="2.8"/>
<line x1="2143.5" y1="157.1" x2="2223.3" y2="157.1" stroke="#000000" stroke-width="4.6"/>
<line x1="2143.5" y1="197.4" x2="2223.3" y2="197.4" stroke="#ff0000" stroke-width="4.6"/>
<line x1="2143.5" y1="236.8" x2="2223.3" y2="236.8" stroke="#0000ff" stroke-width="4.6"/>
<line x1="2143.5" y1="277.1" x2="2223.3" y2="277.1" stroke="#008b8b" stroke-width="4.6"/>
<line x1="2143.5" y1="317.4" x2="2223.3" y2="317.4" stroke="#ff00ff" stroke-width="4.6"/>
<rect x="935.4" y="1001.0" width="296.1" height="170.4000000000001" fill="#fff" stroke="#3c3c3c" stroke-width="2.8"/>
<line x1="936.6" y1="1017.1" x2="1014.3" y2="1017.1" stroke="#000000" stroke-width="4.6"/>
<line x1="936.6" y1="1052.2" x2="1014.3" y2="1052.2" stroke="#ff0000" stroke-width="4.6"/>
<line x1="936.6" y1="1087.9" x2="1014.3" y2="1087.9" stroke="#0000ff" stroke-width="4.6"/>
<line x1="936.6" y1="1123.8" x2="1014.3" y2="1123.8" stroke="#008b8b" stroke-width="4.6"/>
<line x1="936.6" y1="1158.4" x2="1014.3" y2="1158.4" stroke="#ff00ff" stroke-width="4.6"/>
<rect x="2173.6" y="1007.9" width="289.4000000000001" height="192.5000000000001" fill="#fff" stroke="#3c3c3c" stroke-width="2.8"/>
<line x1="2180.3" y1="1033.3" x2="2259.4" y2="1033.3" stroke="#000000" stroke-width="4.6"/>
<line x1="2180.3" y1="1072.4" x2="2259.4" y2="1072.4" stroke="#ff0000" stroke-width="4.6"/>
<line x1="2180.3" y1="1111.6" x2="2259.4" y2="1111.6" stroke="#0000ff" stroke-width="4.6"/>
<line x1="2180.3" y1="1151.5" x2="2259.4" y2="1151.5" stroke="#008b8b" stroke-width="4.6"/>
<line x1="2180.3" y1="1190.3" x2="2259.4" y2="1190.3" stroke="#ff00ff" stroke-width="4.6"/>
<g font-family="'Liberation Serif', 'DejaVu Serif', serif" fill="#000">
<text transform="matrix(1.2091 0 0 1.0357 197.05 78.56)" font-size="100" stroke="#fff" stroke-width="3.2" stroke-linejoin="round">(</text>
<text transform="matrix(0.9222 0 0 0.9479 239.93 82.95)" font-size="100" font-weight="bold">a</text>
<text transform="matrix(1.2550 0 0 1.0610 282.52 79.16)" font-size="100" stroke="#fff" stroke-width="3.2" stroke-linejoin="round">)</text>
<text transform="matrix(1.2273 0 0 1.0369 1441.84 92.84)" font-size="100" stroke="#fff" stroke-width="3.2" stroke-linejoin="round">(</text>
<text transform="matrix(0.9314 0 0 0.9843 1483.97 96.62)" font-size="100" font-weight="bold">b</text>
<text transform="matrix(1.3000 0 0 1.0622 1532.90 93.44)" font-size="100" stroke="#fff" stroke-width="3.2" stroke-linejoin="round">)</text>
<text transform="matrix(1.2091 0 0 1.0417 198.45 951.85)" font-size="100" stroke="#fff" stroke-width="3.2" stroke-linejoin="round">(</text>
<text transform="matrix(0.9821 0 0 0.9521 241.55 955.75)" font-size="100" font-weight="bold">c</text>
<text transform="matrix(1.3050 0 0 1.0671 283.26 952.46)" font-size="100" stroke="#fff" stroke-width="3.2" stroke-linejoin="round">)</text>
<text transform="matrix(1.2273 0 0 1.0476 1438.74 940.44)" font-size="100" stroke="#fff" stroke-width="3.2" stroke-linejoin="round">(</text>
<text transform="matrix(0.9580 0 0 1.0071 1481.47 945.19)" font-size="100" font-weight="bold">d</text>
<text transform="matrix(1.3100 0 0 1.0732 1530.13 941.06)" font-size="100" stroke="#fff" stroke-width="3.2" stroke-linejoin="round">)</text>
<text transform="matrix(0.6494 0 0 0.5868 97.86 155.23)" font-size="100" >1.00</text>
<text transform="matrix(0.6545 0 0 0.6149 95.08 299.47)" font-size="100" >0.75</text>
<text transform="matrix(0.6587 0 0 0.6149 94.37 456.37)" font-size="100" >0.50</text>
<text transform="matrix(0.6587 0 0 0.6164 94.37 610.07)" font-size="100" >0.25</text>
<text transform="matrix(0.6737 0 0 0.6149 91.81 735.27)" font-size="100" >0.00</text>
<text transform="matrix(0.6512 0 0 0.5985 1335.64 159.80)" font-size="100" >1.00</text>
<text transform="matrix(0.6323 0 0 0.5672 1338.47 303.87)" font-size="100" >0.75</text>
<text transform="matrix(0.6581 0 0 0.5985 1334.07 462.40)" font-size="100" >0.50</text>
<text transform="matrix(0.6581 0 0 0.5672 1334.07 612.57)" font-size="100" >0.25</text>
<text transform="matrix(0.6437 0 0 0.5672 1329.93 756.37)" font-size="100" >0.00</text>
<text transform="matrix(0.6636 0 0 0.5544 93.53 1030.59)" font-size="100" >1.00</text>
<text transform="matrix(0.6437 0 0 0.5373 96.93 1169.93)" font-size="100" >0.75</text>
<text transform="matrix(0.6796 0 0 0.5642 90.78 1323.17)" font-size="100" >0.50</text>
<text transform="matrix(0.6796 0 0 0.5343 90.78 1472.43)" font-size="100" >0.25</text>
<text transform="matrix(0.6910 0 0 0.5224 84.84 1618.96)" font-size="100" >0.00</text>
<text transform="matrix(0.6444 0 0 0.5824 1356.20 1030.44)" font-size="100" >1.00</text>
<text transform="matrix(0.6108 0 0 0.4925 1359.56 1172.01)" font-size="100" >0.75</text>
<text transform="matrix(0.6389 0 0 0.5224 1353.44 1325.96)" font-size="100" >0.50</text>
<text transform="matrix(0.6389 0 0 0.4597 1353.44 1471.68)" font-size="100" >0.25</text>
<text transform="matrix(0.6635 0 0 0.5209 1347.15 1615.26)" font-size="100" >0.00</text>
<text transform="matrix(0.6595 0 0 0.5672 217.66 785.87)" font-size="100" >8</text>
<text transform="matrix(0.6860 0 0 0.5758 370.44 786.42)" font-size="100" >9</text>
<text transform="matrix(0.6644 0 0 0.5588 520.52 785.88)" font-size="100" >10</text>
<text transform="matrix(0.6025 0 0 0.5758 679.48 787.00)" font-size="100" >11</text>
<text transform="matrix(0.6741 0 0 0.5758 842.23 787.00)" font-size="100" >12</text>
<text transform="matrix(0.6299 0 0 0.5672 1007.33 786.43)" font-size="100" >13</text>
<text transform="matrix(0.6292 0 0 0.5758 1163.34 787.00)" font-size="100" >14</text>
<text transform="matrix(0.6595 0 0 0.5896 1453.86 798.82)" font-size="100" >8</text>
<text transform="matrix(0.6698 0 0 0.5985 1610.39 799.40)" font-size="100" >9</text>
<text transform="matrix(0.6770 0 0 0.5809 1756.31 798.84)" font-size="100" >10</text>
<text transform="matrix(0.6037 0 0 0.5985 1924.57 800.00)" font-size="100" >11</text>
<text transform="matrix(0.6647 0 0 0.5985 2086.02 800.00)" font-size="100" >12</text>
<text transform="matrix(0.6092 0 0 0.5896 2247.92 799.41)" font-size="100" >13</text>
<text transform="matrix(0.6236 0 0 0.5985 2404.39 800.00)" font-size="100" >14</text>
<text transform="matrix(0.6833 0 0 0.5821 212.17 1652.84)" font-size="100" >8</text>
<text transform="matrix(0.6698 0 0 0.5909 370.39 1653.41)" font-size="100" >9</text>
<text transform="matrix(0.6759 0 0 0.5735 517.52 1652.85)" font-size="100" >10</text>
<text transform="matrix(0.6074 0 0 0.5909 686.53 1654.00)" font-size="100" >11</text>
<text transform="matrix(0.6788 0 0 0.5909 847.89 1654.00)" font-size="100" >12</text>
<text transform="matrix(0.6356 0 0 0.5821 1010.58 1653.42)" font-size="100" >13</text>
<text transform="matrix(0.6472 0 0 0.5909 1168.08 1654.00)" font-size="100" >14</text>
<text transform="matrix(0.6429 0 0 0.5970 1472.13 1655.81)" font-size="100" >8</text>
<text transform="matrix(0.6837 0 0 0.6061 1626.65 1656.39)" font-size="100" >9</text>
<text transform="matrix(0.6632 0 0 0.5882 1769.73 1655.82)" font-size="100" >10</text>
<text transform="matrix(0.5815 0 0 0.6061 1936.27 1657.00)" font-size="100" >11</text>
<text transform="matrix(0.6541 0 0 0.6061 2094.81 1657.00)" font-size="100" >12</text>
<text transform="matrix(0.5989 0 0 0.5970 2255.31 1656.40)" font-size="100" >13</text>
<text transform="matrix(0.6506 0 0 0.6061 2406.84 1657.00)" font-size="100" >14</text>
<text transform="matrix(0.6683 0 0 0.6308 521.80 838.40)" font-size="100" stroke="#000" stroke-width="1.2">Wavelength (μm)</text>
<text transform="matrix(0.6751 0 0 0.6385 1746.00 848.50)" font-size="100" stroke="#000" stroke-width="1.2">Wavelength (μm)</text>
<text transform="matrix(0.6771 0 0 0.6338 438.20 1708.50)" font-size="100" stroke="#000" stroke-width="1.2">Wavelength (μm)</text>
<text transform="matrix(0.6669 0 0 0.6308 1760.40 1705.00)" font-size="100" stroke="#000" stroke-width="1.2">Wavelength (μm)</text>
<text transform="matrix(0 -0.6024 0.7318 0 67.80 587.80)" font-size="100" >Absorptance</text>
<text transform="matrix(0 -0.6078 0.5924 0 1302.40 609.41)" font-size="100" >Absorptance</text>
<text transform="matrix(0 -0.5922 0.7470 0 60.60 1467.79)" font-size="100" >Absorptance</text>
<text transform="matrix(0 -0.5952 0.7045 0 1320.80 1468.80)" font-size="100" >Absorptance</text>
<text transform="matrix(0.4756 0 0 0.4138 994.50 169.30)" font-size="100" ><tspan font-style="italic">R</tspan>=1.04μm</text>
<text transform="matrix(0.4756 0 0 0.4138 994.50 209.60)" font-size="100" ><tspan font-style="italic">R</tspan>=1.05μm</text>
<text transform="matrix(0.4756 0 0 0.4138 994.50 249.90)" font-size="100" ><tspan font-style="italic">R</tspan>=1.06μm</text>
<text transform="matrix(0.4756 0 0 0.4138 994.50 290.20)" font-size="100" ><tspan font-style="italic">R</tspan>=1.07μm</text>
<text transform="matrix(0.4756 0 0 0.4138 994.50 330.50)" font-size="100" ><tspan font-style="italic">R</tspan>=1.08μm</text>
<text transform="matrix(0.4786 0 0 0.4338 2227.30 171.60)" font-size="100" ><tspan font-style="italic">R</tspan><tspan font-size="58" dy="14">1</tspan><tspan dy="-14">=1.11μm</tspan></text>
<text transform="matrix(0.4754 0 0 0.4338 2227.30 211.00)" font-size="100" ><tspan font-style="italic">R</tspan><tspan font-size="58" dy="14">1</tspan><tspan dy="-14">=1.12μm</tspan></text>
<text transform="matrix(0.4754 0 0 0.4338 2227.30 250.40)" font-size="100" ><tspan font-style="italic">R</tspan><tspan font-size="58" dy="14">1</tspan><tspan dy="-14">=1.13μm</tspan></text>
<text transform="matrix(0.4754 0 0 0.4338 2227.30 289.80)" font-size="100" ><tspan font-style="italic">R</tspan><tspan font-size="58" dy="14">1</tspan><tspan dy="-14">=1.14μm</tspan></text>
<text transform="matrix(0.4754 0 0 0.4338 2227.30 329.20)" font-size="100" ><tspan font-style="italic">R</tspan><tspan font-size="58" dy="14">1</tspan><tspan dy="-14">=1.15μm</tspan></text>
<text transform="matrix(0.4563 0 0 0.3754 1020.40 1031.20)" font-size="100" ><tspan font-style="italic">R</tspan><tspan font-size="58" dy="14">2</tspan><tspan dy="-14">=1.26μm</tspan></text>
<text transform="matrix(0.4563 0 0 0.3754 1020.40 1064.70)" font-size="100" ><tspan font-style="italic">R</tspan><tspan font-size="58" dy="14">2</tspan><tspan dy="-14">=1.27μm</tspan></text>
<text transform="matrix(0.4563 0 0 0.3754 1020.40 1098.20)" font-size="100" ><tspan font-style="italic">R</tspan><tspan font-size="58" dy="14">2</tspan><tspan dy="-14">=1.28μm</tspan></text>
<text transform="matrix(0.4563 0 0 0.3754 1020.40 1131.70)" font-size="100" ><tspan font-style="italic">R</tspan><tspan font-size="58" dy="14">2</tspan><tspan dy="-14">=1.29μm</tspan></text>
<text transform="matrix(0.4563 0 0 0.3754 1020.40 1165.20)" font-size="100" ><tspan font-style="italic">R</tspan><tspan font-size="58" dy="14">2</tspan><tspan dy="-14">=1.30μm</tspan></text>
<text transform="matrix(0.4597 0 0 0.4246 2262.52 1042.20)" font-size="100" ><tspan font-style="italic">w</tspan>=0.4μm</text>
<text transform="matrix(0.4513 0 0 0.4246 2262.55 1081.40)" font-size="100" ><tspan font-style="italic">w</tspan>=0.42μm</text>
<text transform="matrix(0.4513 0 0 0.4246 2262.55 1120.60)" font-size="100" ><tspan font-style="italic">w</tspan>=0.44μm</text>
<text transform="matrix(0.4513 0 0 0.4246 2262.55 1159.80)" font-size="100" ><tspan font-style="italic">w</tspan>=0.46μm</text>
<text transform="matrix(0.4513 0 0 0.4246 2262.55 1199.00)" font-size="100" ><tspan font-style="italic">w</tspan>=0.48μm</text>
</g>
</svg>
</body></html>
